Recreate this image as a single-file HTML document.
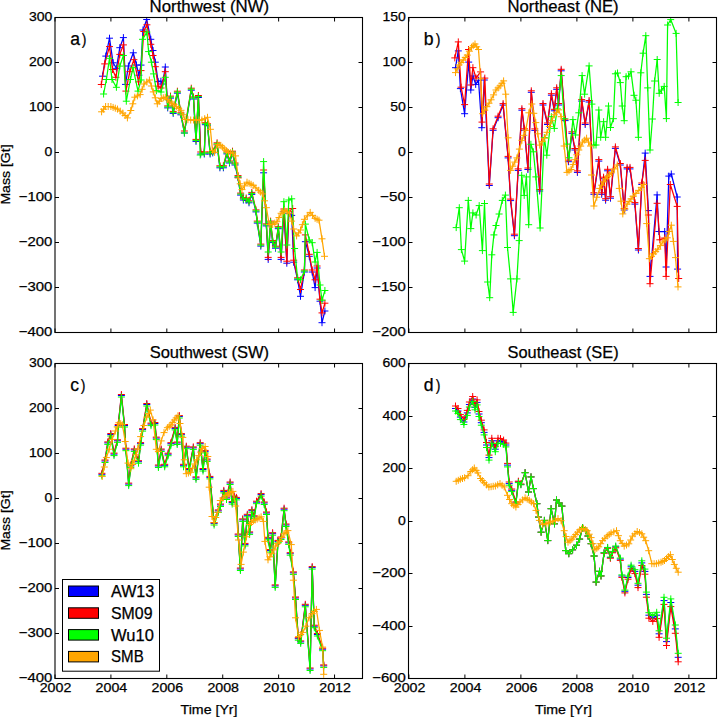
<!DOCTYPE html>
<html><head><meta charset="utf-8"><style>
html,body{margin:0;padding:0;background:#fff;}
svg{display:block;}
text{font-family:"Liberation Sans",sans-serif;fill:#000;stroke:#000;stroke-width:0.25px;}
</style></head><body>
<svg width="718" height="717" viewBox="0 0 718 717">
<rect width="718" height="717" fill="#fff"/>
<svg x="55.0" y="17.5" width="307.5" height="315.0" viewBox="55.0 17.5 307.5 315.0" overflow="hidden">
<path d="M102.5,76.2 L105.8,56.1 L109.5,38.2 L113.1,62.8 L116.4,68.3 L119.8,47.7 L123.4,37.6 L125.5,84.4 L128.4,66.0 L133.3,52.8 L136.5,65.0 L138.9,75.2 L141.0,65.1 L143.0,30.0 L146.7,19.5 L150.8,39.3 L153.0,50.5 L155.3,62.2 L158.1,81.7 L160.9,81.2 L162.5,84.0 L165.3,67.0 L167.7,107.9 L170.5,98.1 L173.2,113.4 L177.4,93.2 L180.9,114.8 L184.4,133.0 L191.3,90.2 L193.5,99.0 L196.0,141.4 L198.4,97.5 L200.7,154.0 L204.3,154.0 L205.4,124.7 L207.5,125.8 L210.1,154.0 L212.7,152.9 L217.1,144.8 L219.9,167.8 L223.4,167.8 L226.9,153.9 L229.5,163.0 L232.5,153.2 L235.0,165.0 L238.0,177.6 L240.6,195.1 L243.4,200.0 L246.2,200.0 L249.0,202.8 L251.8,194.4 L256.0,211.9 L257.3,223.1 L260.8,246.1 L263.6,172.8 L266.4,225.9 L268.2,259.4 L270.6,223.1 L272.7,242.6 L275.5,248.2 L278.3,228.7 L281.1,259.4 L283.9,211.5 L286.8,263.2 L288.8,213.4 L291.7,215.4 L293.7,262.2 L297.6,279.8 L300.5,296.3 L304.4,272.0 L305.4,241.7 L309.3,256.3 L312.2,272.0 L315.1,287.6 L317.1,268.0 L320.0,301.2 L322.0,322.7 L324.9,311.0" fill="none" stroke="#0000ff" stroke-width="1.25" stroke-linejoin="round"/>
<path d="M99.0,76.2h7.0M102.5,72.7v7.0 M102.3,56.1h7.0M105.8,52.6v7.0 M106.0,38.2h7.0M109.5,34.7v7.0 M109.6,62.8h7.0M113.1,59.3v7.0 M112.9,68.3h7.0M116.4,64.8v7.0 M116.3,47.7h7.0M119.8,44.2v7.0 M119.9,37.6h7.0M123.4,34.1v7.0 M122.0,84.4h7.0M125.5,80.9v7.0 M124.9,66.0h7.0M128.4,62.5v7.0 M129.8,52.8h7.0M133.3,49.3v7.0 M133.0,65.0h7.0M136.5,61.5v7.0 M135.4,75.2h7.0M138.9,71.7v7.0 M137.5,65.1h7.0M141.0,61.6v7.0 M139.5,30.0h7.0M143.0,26.5v7.0 M143.2,19.5h7.0M146.7,16.0v7.0 M147.3,39.3h7.0M150.8,35.8v7.0 M149.5,50.5h7.0M153.0,47.0v7.0 M151.8,62.2h7.0M155.3,58.7v7.0 M154.6,81.7h7.0M158.1,78.2v7.0 M157.4,81.2h7.0M160.9,77.7v7.0 M159.0,84.0h7.0M162.5,80.5v7.0 M161.8,67.0h7.0M165.3,63.5v7.0 M164.2,107.9h7.0M167.7,104.4v7.0 M167.0,98.1h7.0M170.5,94.6v7.0 M169.7,113.4h7.0M173.2,109.9v7.0 M173.9,93.2h7.0M177.4,89.7v7.0 M177.4,114.8h7.0M180.9,111.3v7.0 M180.9,133.0h7.0M184.4,129.5v7.0 M187.8,90.2h7.0M191.3,86.7v7.0 M190.0,99.0h7.0M193.5,95.5v7.0 M192.5,141.4h7.0M196.0,137.9v7.0 M194.9,97.5h7.0M198.4,94.0v7.0 M197.2,154.0h7.0M200.7,150.5v7.0 M200.8,154.0h7.0M204.3,150.5v7.0 M201.9,124.7h7.0M205.4,121.2v7.0 M204.0,125.8h7.0M207.5,122.3v7.0 M206.6,154.0h7.0M210.1,150.5v7.0 M209.2,152.9h7.0M212.7,149.4v7.0 M213.6,144.8h7.0M217.1,141.3v7.0 M216.4,167.8h7.0M219.9,164.3v7.0 M219.9,167.8h7.0M223.4,164.3v7.0 M223.4,153.9h7.0M226.9,150.4v7.0 M226.0,163.0h7.0M229.5,159.5v7.0 M229.0,153.2h7.0M232.5,149.7v7.0 M231.5,165.0h7.0M235.0,161.5v7.0 M234.5,177.6h7.0M238.0,174.1v7.0 M237.1,195.1h7.0M240.6,191.6v7.0 M239.9,200.0h7.0M243.4,196.5v7.0 M242.7,200.0h7.0M246.2,196.5v7.0 M245.5,202.8h7.0M249.0,199.3v7.0 M248.3,194.4h7.0M251.8,190.9v7.0 M252.5,211.9h7.0M256.0,208.4v7.0 M253.8,223.1h7.0M257.3,219.6v7.0 M257.3,246.1h7.0M260.8,242.6v7.0 M260.1,172.8h7.0M263.6,169.3v7.0 M262.9,225.9h7.0M266.4,222.4v7.0 M264.7,259.4h7.0M268.2,255.9v7.0 M267.1,223.1h7.0M270.6,219.6v7.0 M269.2,242.6h7.0M272.7,239.1v7.0 M272.0,248.2h7.0M275.5,244.7v7.0 M274.8,228.7h7.0M278.3,225.2v7.0 M277.6,259.4h7.0M281.1,255.9v7.0 M280.4,211.5h7.0M283.9,208.0v7.0 M283.3,263.2h7.0M286.8,259.7v7.0 M285.3,213.4h7.0M288.8,209.9v7.0 M288.2,215.4h7.0M291.7,211.9v7.0 M290.2,262.2h7.0M293.7,258.7v7.0 M294.1,279.8h7.0M297.6,276.3v7.0 M297.0,296.3h7.0M300.5,292.8v7.0 M300.9,272.0h7.0M304.4,268.5v7.0 M301.9,241.7h7.0M305.4,238.2v7.0 M305.8,256.3h7.0M309.3,252.8v7.0 M308.7,272.0h7.0M312.2,268.5v7.0 M311.6,287.6h7.0M315.1,284.1v7.0 M313.6,268.0h7.0M317.1,264.5v7.0 M316.5,301.2h7.0M320.0,297.7v7.0 M318.5,322.7h7.0M322.0,319.2v7.0 M321.4,311.0h7.0M324.9,307.5v7.0" fill="none" stroke="#0000ff" stroke-width="1.0"/>
<path d="M101.3,84.5 L104.7,63.9 L109.5,46.6 L112.5,69.5 L115.9,77.3 L119.8,54.4 L123.4,44.9 L125.9,91.1 L129.8,71.7 L133.9,59.7 L138.5,81.9 L141.0,70.6 L143.8,31.5 L146.9,24.8 L150.8,44.3 L153.0,55.5 L155.3,66.7 L158.1,86.2 L161.0,88.0 L165.3,71.7 L167.7,105.9 L170.5,96.1 L173.2,111.4 L177.4,91.2 L180.9,112.8 L184.4,131.0 L191.3,88.2 L193.5,97.0 L196.0,139.4 L198.4,95.5 L200.7,152.0 L204.3,152.0 L205.4,122.7 L207.5,123.8 L210.1,152.0 L212.7,150.9 L217.1,142.8 L219.9,165.8 L223.4,165.8 L226.9,151.9 L229.5,161.0 L232.5,151.2 L235.0,163.0 L238.0,175.6 L240.6,193.1 L243.4,198.0 L246.2,198.0 L249.0,200.8 L251.8,192.4 L256.0,209.9 L257.3,221.1 L260.8,244.1 L263.6,170.0 L266.4,223.9 L268.2,257.4 L270.6,221.1 L272.7,240.6 L275.5,246.2 L278.3,226.7 L281.1,257.4 L283.9,209.0 L286.8,261.2 L288.8,211.4 L292.7,208.5 L293.7,260.2 L297.6,277.8 L300.5,289.5 L304.4,270.0 L305.4,234.9 L309.3,254.3 L312.2,270.0 L315.1,279.8 L317.1,266.0 L320.0,299.2 L322.0,312.9 L324.9,303.2" fill="none" stroke="#ff0000" stroke-width="1.25" stroke-linejoin="round"/>
<path d="M97.8,84.5h7.0M101.3,81.0v7.0 M101.2,63.9h7.0M104.7,60.4v7.0 M106.0,46.6h7.0M109.5,43.1v7.0 M109.0,69.5h7.0M112.5,66.0v7.0 M112.4,77.3h7.0M115.9,73.8v7.0 M116.3,54.4h7.0M119.8,50.9v7.0 M119.9,44.9h7.0M123.4,41.4v7.0 M122.4,91.1h7.0M125.9,87.6v7.0 M126.3,71.7h7.0M129.8,68.2v7.0 M130.4,59.7h7.0M133.9,56.2v7.0 M135.0,81.9h7.0M138.5,78.4v7.0 M137.5,70.6h7.0M141.0,67.1v7.0 M140.3,31.5h7.0M143.8,28.0v7.0 M143.4,24.8h7.0M146.9,21.3v7.0 M147.3,44.3h7.0M150.8,40.8v7.0 M149.5,55.5h7.0M153.0,52.0v7.0 M151.8,66.7h7.0M155.3,63.2v7.0 M154.6,86.2h7.0M158.1,82.7v7.0 M157.5,88.0h7.0M161.0,84.5v7.0 M161.8,71.7h7.0M165.3,68.2v7.0 M164.2,105.9h7.0M167.7,102.4v7.0 M167.0,96.1h7.0M170.5,92.6v7.0 M169.7,111.4h7.0M173.2,107.9v7.0 M173.9,91.2h7.0M177.4,87.7v7.0 M177.4,112.8h7.0M180.9,109.3v7.0 M180.9,131.0h7.0M184.4,127.5v7.0 M187.8,88.2h7.0M191.3,84.7v7.0 M190.0,97.0h7.0M193.5,93.5v7.0 M192.5,139.4h7.0M196.0,135.9v7.0 M194.9,95.5h7.0M198.4,92.0v7.0 M197.2,152.0h7.0M200.7,148.5v7.0 M200.8,152.0h7.0M204.3,148.5v7.0 M201.9,122.7h7.0M205.4,119.2v7.0 M204.0,123.8h7.0M207.5,120.3v7.0 M206.6,152.0h7.0M210.1,148.5v7.0 M209.2,150.9h7.0M212.7,147.4v7.0 M213.6,142.8h7.0M217.1,139.3v7.0 M216.4,165.8h7.0M219.9,162.3v7.0 M219.9,165.8h7.0M223.4,162.3v7.0 M223.4,151.9h7.0M226.9,148.4v7.0 M226.0,161.0h7.0M229.5,157.5v7.0 M229.0,151.2h7.0M232.5,147.7v7.0 M231.5,163.0h7.0M235.0,159.5v7.0 M234.5,175.6h7.0M238.0,172.1v7.0 M237.1,193.1h7.0M240.6,189.6v7.0 M239.9,198.0h7.0M243.4,194.5v7.0 M242.7,198.0h7.0M246.2,194.5v7.0 M245.5,200.8h7.0M249.0,197.3v7.0 M248.3,192.4h7.0M251.8,188.9v7.0 M252.5,209.9h7.0M256.0,206.4v7.0 M253.8,221.1h7.0M257.3,217.6v7.0 M257.3,244.1h7.0M260.8,240.6v7.0 M260.1,170.0h7.0M263.6,166.5v7.0 M262.9,223.9h7.0M266.4,220.4v7.0 M264.7,257.4h7.0M268.2,253.9v7.0 M267.1,221.1h7.0M270.6,217.6v7.0 M269.2,240.6h7.0M272.7,237.1v7.0 M272.0,246.2h7.0M275.5,242.7v7.0 M274.8,226.7h7.0M278.3,223.2v7.0 M277.6,257.4h7.0M281.1,253.9v7.0 M280.4,209.0h7.0M283.9,205.5v7.0 M283.3,261.2h7.0M286.8,257.7v7.0 M285.3,211.4h7.0M288.8,207.9v7.0 M289.2,208.5h7.0M292.7,205.0v7.0 M290.2,260.2h7.0M293.7,256.7v7.0 M294.1,277.8h7.0M297.6,274.3v7.0 M297.0,289.5h7.0M300.5,286.0v7.0 M300.9,270.0h7.0M304.4,266.5v7.0 M301.9,234.9h7.0M305.4,231.4v7.0 M305.8,254.3h7.0M309.3,250.8v7.0 M308.7,270.0h7.0M312.2,266.5v7.0 M311.6,279.8h7.0M315.1,276.3v7.0 M313.6,266.0h7.0M317.1,262.5v7.0 M316.5,299.2h7.0M320.0,295.7v7.0 M318.5,312.9h7.0M322.0,309.4v7.0 M321.4,303.2h7.0M324.9,299.7v7.0" fill="none" stroke="#ff0000" stroke-width="1.0"/>
<path d="M103.6,94.0 L106.4,79.5 L109.5,58.3 L112.0,79.5 L116.4,87.3 L119.8,66.1 L123.4,55.5 L126.3,101.2 L130.4,79.5 L133.0,67.7 L138.0,91.1 L141.0,80.0 L142.5,39.3 L146.9,32.1 L148.6,51.6 L151.4,62.2 L153.6,73.9 L156.4,90.7 L161.0,92.0 L165.3,77.3 L167.7,106.9 L170.5,97.1 L173.2,112.4 L177.4,92.2 L180.9,113.8 L184.4,133.0 L191.3,89.2 L193.5,98.0 L196.0,140.4 L198.4,96.5 L200.2,155.0 L204.3,153.0 L205.4,123.7 L207.5,124.8 L210.1,153.0 L212.7,151.9 L217.1,143.8 L219.9,166.8 L223.4,166.8 L226.9,152.9 L229.5,162.0 L232.5,152.2 L235.0,164.0 L238.0,176.6 L240.6,194.1 L243.4,199.0 L246.2,199.0 L249.0,201.8 L251.8,193.4 L256.0,210.9 L257.3,222.1 L260.8,245.1 L263.6,161.6 L266.4,224.9 L268.2,252.0 L270.6,222.1 L272.7,241.6 L275.5,247.2 L278.3,227.7 L281.1,252.0 L283.9,201.7 L286.8,245.0 L288.8,200.0 L291.7,198.8 L294.6,248.5 L297.6,278.8 L300.5,279.8 L304.4,271.0 L305.4,224.1 L309.3,240.0 L312.2,242.7 L315.1,262.0 L317.1,252.4 L320.0,285.0 L322.0,300.2 L324.9,290.5" fill="none" stroke="#00ff00" stroke-width="1.25" stroke-linejoin="round"/>
<path d="M100.1,94.0h7.0M103.6,90.5v7.0 M102.9,79.5h7.0M106.4,76.0v7.0 M106.0,58.3h7.0M109.5,54.8v7.0 M108.5,79.5h7.0M112.0,76.0v7.0 M112.9,87.3h7.0M116.4,83.8v7.0 M116.3,66.1h7.0M119.8,62.6v7.0 M119.9,55.5h7.0M123.4,52.0v7.0 M122.8,101.2h7.0M126.3,97.7v7.0 M126.9,79.5h7.0M130.4,76.0v7.0 M129.5,67.7h7.0M133.0,64.2v7.0 M134.5,91.1h7.0M138.0,87.6v7.0 M137.5,80.0h7.0M141.0,76.5v7.0 M139.0,39.3h7.0M142.5,35.8v7.0 M143.4,32.1h7.0M146.9,28.6v7.0 M145.1,51.6h7.0M148.6,48.1v7.0 M147.9,62.2h7.0M151.4,58.7v7.0 M150.1,73.9h7.0M153.6,70.4v7.0 M152.9,90.7h7.0M156.4,87.2v7.0 M157.5,92.0h7.0M161.0,88.5v7.0 M161.8,77.3h7.0M165.3,73.8v7.0 M164.2,106.9h7.0M167.7,103.4v7.0 M167.0,97.1h7.0M170.5,93.6v7.0 M169.7,112.4h7.0M173.2,108.9v7.0 M173.9,92.2h7.0M177.4,88.7v7.0 M177.4,113.8h7.0M180.9,110.3v7.0 M180.9,133.0h7.0M184.4,129.5v7.0 M187.8,89.2h7.0M191.3,85.7v7.0 M190.0,98.0h7.0M193.5,94.5v7.0 M192.5,140.4h7.0M196.0,136.9v7.0 M194.9,96.5h7.0M198.4,93.0v7.0 M196.7,155.0h7.0M200.2,151.5v7.0 M200.8,153.0h7.0M204.3,149.5v7.0 M201.9,123.7h7.0M205.4,120.2v7.0 M204.0,124.8h7.0M207.5,121.3v7.0 M206.6,153.0h7.0M210.1,149.5v7.0 M209.2,151.9h7.0M212.7,148.4v7.0 M213.6,143.8h7.0M217.1,140.3v7.0 M216.4,166.8h7.0M219.9,163.3v7.0 M219.9,166.8h7.0M223.4,163.3v7.0 M223.4,152.9h7.0M226.9,149.4v7.0 M226.0,162.0h7.0M229.5,158.5v7.0 M229.0,152.2h7.0M232.5,148.7v7.0 M231.5,164.0h7.0M235.0,160.5v7.0 M234.5,176.6h7.0M238.0,173.1v7.0 M237.1,194.1h7.0M240.6,190.6v7.0 M239.9,199.0h7.0M243.4,195.5v7.0 M242.7,199.0h7.0M246.2,195.5v7.0 M245.5,201.8h7.0M249.0,198.3v7.0 M248.3,193.4h7.0M251.8,189.9v7.0 M252.5,210.9h7.0M256.0,207.4v7.0 M253.8,222.1h7.0M257.3,218.6v7.0 M257.3,245.1h7.0M260.8,241.6v7.0 M260.1,161.6h7.0M263.6,158.1v7.0 M262.9,224.9h7.0M266.4,221.4v7.0 M264.7,252.0h7.0M268.2,248.5v7.0 M267.1,222.1h7.0M270.6,218.6v7.0 M269.2,241.6h7.0M272.7,238.1v7.0 M272.0,247.2h7.0M275.5,243.7v7.0 M274.8,227.7h7.0M278.3,224.2v7.0 M277.6,252.0h7.0M281.1,248.5v7.0 M280.4,201.7h7.0M283.9,198.2v7.0 M283.3,245.0h7.0M286.8,241.5v7.0 M285.3,200.0h7.0M288.8,196.5v7.0 M288.2,198.8h7.0M291.7,195.3v7.0 M291.1,248.5h7.0M294.6,245.0v7.0 M294.1,278.8h7.0M297.6,275.3v7.0 M297.0,279.8h7.0M300.5,276.3v7.0 M300.9,271.0h7.0M304.4,267.5v7.0 M301.9,224.1h7.0M305.4,220.6v7.0 M305.8,240.0h7.0M309.3,236.5v7.0 M308.7,242.7h7.0M312.2,239.2v7.0 M311.6,262.0h7.0M315.1,258.5v7.0 M313.6,252.4h7.0M317.1,248.9v7.0 M316.5,285.0h7.0M320.0,281.5v7.0 M318.5,300.2h7.0M322.0,296.7v7.0 M321.4,290.5h7.0M324.9,287.0v7.0" fill="none" stroke="#00ff00" stroke-width="1.0"/>
<path d="M101.6,111.8 L105.6,106.5 L110.9,106.5 L117.5,109.1 L122.8,113.1 L127.4,117.9 L130.8,110.5 L134.8,97.2 L140.1,94.6 L144.1,84.0 L149.4,80.0 L153.3,91.9 L157.3,103.8 L161.3,98.5 L165.3,97.2 L169.8,101.9 L174.0,104.7 L181.0,110.3 L185.1,119.4 L190.7,120.0 L196.3,120.0 L201.9,120.0 L207.5,117.3 L210.4,129.3 L212.5,150.3 L214.6,152.4 L217.3,144.7 L220.8,145.4 L224.3,148.9 L228.5,152.4 L232.7,153.1 L235.5,155.9 L238.3,178.0 L242.0,189.6 L247.0,182.2 L253.2,185.4 L258.7,190.3 L262.6,193.9 L266.4,207.7 L269.2,224.5 L272.7,224.5 L276.9,221.7 L281.1,213.3 L284.6,210.5 L289.6,213.2 L293.7,229.0 L296.6,235.9 L300.5,230.0 L304.4,219.3 L310.2,212.4 L315.1,218.3 L319.0,220.2 L322.0,238.8 L324.5,256.3" fill="none" stroke="#ffa500" stroke-width="1.25" stroke-linejoin="round"/>
<path d="M98.1,111.8h7.0M101.6,108.3v7.0 M100.1,109.2h7.0M103.6,105.7v7.0 M102.1,106.5h7.0M105.6,103.0v7.0 M104.8,106.5h7.0M108.2,103.0v7.0 M107.4,106.5h7.0M110.9,103.0v7.0 M109.6,107.4h7.0M113.1,103.9v7.0 M111.8,108.2h7.0M115.3,104.7v7.0 M114.0,109.1h7.0M117.5,105.6v7.0 M116.7,111.1h7.0M120.2,107.6v7.0 M119.3,113.1h7.0M122.8,109.6v7.0 M121.6,115.5h7.0M125.1,112.0v7.0 M123.9,117.9h7.0M127.4,114.4v7.0 M127.3,110.5h7.0M130.8,107.0v7.0 M129.3,103.8h7.0M132.8,100.3v7.0 M131.3,97.2h7.0M134.8,93.7v7.0 M133.9,95.9h7.0M137.4,92.4v7.0 M136.6,94.6h7.0M140.1,91.1v7.0 M138.6,89.3h7.0M142.1,85.8v7.0 M140.6,84.0h7.0M144.1,80.5v7.0 M143.2,82.0h7.0M146.8,78.5v7.0 M145.9,80.0h7.0M149.4,76.5v7.0 M147.9,86.0h7.0M151.4,82.5v7.0 M149.8,91.9h7.0M153.3,88.4v7.0 M151.8,97.8h7.0M155.3,94.3v7.0 M153.8,103.8h7.0M157.3,100.3v7.0 M155.8,101.2h7.0M159.3,97.7v7.0 M157.8,98.5h7.0M161.3,95.0v7.0 M159.8,97.8h7.0M163.3,94.3v7.0 M161.8,97.2h7.0M165.3,93.7v7.0 M164.1,99.6h7.0M167.6,96.1v7.0 M166.3,101.9h7.0M169.8,98.4v7.0 M168.4,103.3h7.0M171.9,99.8v7.0 M170.5,104.7h7.0M174.0,101.2v7.0 M172.8,106.6h7.0M176.3,103.1v7.0 M175.2,108.4h7.0M178.7,104.9v7.0 M177.5,110.3h7.0M181.0,106.8v7.0 M179.6,114.8h7.0M183.1,111.3v7.0 M181.6,119.4h7.0M185.1,115.9v7.0 M184.4,119.7h7.0M187.9,116.2v7.0 M187.2,120.0h7.0M190.7,116.5v7.0 M190.0,120.0h7.0M193.5,116.5v7.0 M192.8,120.0h7.0M196.3,116.5v7.0 M195.6,120.0h7.0M199.1,116.5v7.0 M198.4,120.0h7.0M201.9,116.5v7.0 M201.2,118.7h7.0M204.7,115.2v7.0 M204.0,117.3h7.0M207.5,113.8v7.0 M206.9,129.3h7.0M210.4,125.8v7.0 M209.0,150.3h7.0M212.5,146.8v7.0 M211.1,152.4h7.0M214.6,148.9v7.0 M213.8,144.7h7.0M217.3,141.2v7.0 M215.6,145.1h7.0M219.1,141.6v7.0 M217.3,145.4h7.0M220.8,141.9v7.0 M219.1,147.2h7.0M222.6,143.7v7.0 M220.8,148.9h7.0M224.3,145.4v7.0 M222.9,150.7h7.0M226.4,147.2v7.0 M225.0,152.4h7.0M228.5,148.9v7.0 M227.1,152.8h7.0M230.6,149.2v7.0 M229.2,153.1h7.0M232.7,149.6v7.0 M232.0,155.9h7.0M235.5,152.4v7.0 M234.8,178.0h7.0M238.3,174.5v7.0 M236.7,183.8h7.0M240.2,180.3v7.0 M238.5,189.6h7.0M242.0,186.1v7.0 M241.0,185.9h7.0M244.5,182.4v7.0 M243.5,182.2h7.0M247.0,178.7v7.0 M245.6,183.3h7.0M249.1,179.8v7.0 M247.6,184.3h7.0M251.1,180.8v7.0 M249.7,185.4h7.0M253.2,181.9v7.0 M252.4,187.9h7.0M255.9,184.4v7.0 M255.2,190.3h7.0M258.7,186.8v7.0 M257.1,192.1h7.0M260.6,188.6v7.0 M259.1,193.9h7.0M262.6,190.4v7.0 M261.0,200.8h7.0M264.5,197.3v7.0 M262.9,207.7h7.0M266.4,204.2v7.0 M265.7,224.5h7.0M269.2,221.0v7.0 M267.4,224.5h7.0M270.9,221.0v7.0 M269.2,224.5h7.0M272.7,221.0v7.0 M271.3,223.1h7.0M274.8,219.6v7.0 M273.4,221.7h7.0M276.9,218.2v7.0 M275.5,217.5h7.0M279.0,214.0v7.0 M277.6,213.3h7.0M281.1,209.8v7.0 M279.4,211.9h7.0M282.9,208.4v7.0 M281.1,210.5h7.0M284.6,207.0v7.0 M283.6,211.8h7.0M287.1,208.3v7.0 M286.1,213.2h7.0M289.6,209.7v7.0 M288.1,221.1h7.0M291.6,217.6v7.0 M290.2,229.0h7.0M293.7,225.5v7.0 M293.1,235.9h7.0M296.6,232.4v7.0 M295.1,232.9h7.0M298.6,229.4v7.0 M297.0,230.0h7.0M300.5,226.5v7.0 M298.9,224.7h7.0M302.4,221.2v7.0 M300.9,219.3h7.0M304.4,215.8v7.0 M303.8,215.9h7.0M307.3,212.4v7.0 M306.7,212.4h7.0M310.2,208.9v7.0 M309.1,215.4h7.0M312.6,211.9v7.0 M311.6,218.3h7.0M315.1,214.8v7.0 M313.6,219.2h7.0M317.1,215.8v7.0 M315.5,220.2h7.0M319.0,216.7v7.0 M318.5,238.8h7.0M322.0,235.3v7.0 M321.0,256.3h7.0M324.5,252.8v7.0" fill="none" stroke="#ffa500" stroke-width="1.0"/>
</svg>
<rect x="55.0" y="17.5" width="307.5" height="315.0" fill="none" stroke="#000" stroke-width="1.1"/>
<text x="52.40" y="336.00" font-size="12.84" text-anchor="end" textLength="33.62" lengthAdjust="spacingAndGlyphs">−400</text>
<text x="52.40" y="291.00" font-size="12.84" text-anchor="end" textLength="33.62" lengthAdjust="spacingAndGlyphs">−300</text>
<text x="52.40" y="246.00" font-size="12.84" text-anchor="end" textLength="33.62" lengthAdjust="spacingAndGlyphs">−200</text>
<text x="52.40" y="201.00" font-size="12.84" text-anchor="end" textLength="33.62" lengthAdjust="spacingAndGlyphs">−100</text>
<text x="52.40" y="156.00" font-size="12.84" text-anchor="end" textLength="7.79" lengthAdjust="spacingAndGlyphs">0</text>
<text x="52.40" y="111.00" font-size="12.84" text-anchor="end" textLength="23.36" lengthAdjust="spacingAndGlyphs">100</text>
<text x="52.40" y="66.00" font-size="12.84" text-anchor="end" textLength="23.36" lengthAdjust="spacingAndGlyphs">200</text>
<text x="52.40" y="21.00" font-size="12.84" text-anchor="end" textLength="23.36" lengthAdjust="spacingAndGlyphs">300</text>
<path d="M55.00,332.5v-4M55.00,17.5v4 M110.91,332.5v-4M110.91,17.5v4 M166.82,332.5v-4M166.82,17.5v4 M222.73,332.5v-4M222.73,17.5v4 M278.64,332.5v-4M278.64,17.5v4 M334.55,332.5v-4M334.55,17.5v4 M55.0,332.50h4M362.5,332.50h-4 M55.0,287.50h4M362.5,287.50h-4 M55.0,242.50h4M362.5,242.50h-4 M55.0,197.50h4M362.5,197.50h-4 M55.0,152.50h4M362.5,152.50h-4 M55.0,107.50h4M362.5,107.50h-4 M55.0,62.50h4M362.5,62.50h-4 M55.0,17.50h4M362.5,17.50h-4" stroke="#000" stroke-width="1.0" fill="none"/>
<g transform="translate(209.35,12.20) scale(1,1.0)">
<text x="0.00" y="0.00" font-size="15.84" text-anchor="middle" textLength="119.48" lengthAdjust="spacingAndGlyphs">Northwest (NW)</text>
</g>
<text x="70.20" y="44.90" font-size="17.6">a</text>
<g transform="translate(81.79,44.90) scale(0.8,0.9)"><text x="0" y="0" font-size="17.6">)</text></g>
<g transform="translate(9.9,174.50) rotate(-90)">
<text x="0.00" y="0.00" font-size="12.84" text-anchor="middle" textLength="60.26" lengthAdjust="spacingAndGlyphs">Mass [Gt]</text>
</g>
<svg x="408.5" y="17.5" width="308.0" height="315.0" viewBox="408.5 17.5 308.0 315.0" overflow="hidden">
<path d="M455.5,67.7 L458.3,50.9 L460.4,88.6 L464.6,113.7 L468.7,62.1 L470.8,90.0 L472.9,76.0 L475.7,84.4 L478.5,80.2 L481.8,127.7 L484.3,80.0 L489.3,185.5 L493.1,130.3 L498.1,117.7 L503.1,105.1 L508.1,157.9 L510.6,200.6 L514.4,235.7 L518.2,170.4 L521.9,110.2 L524.4,130.3 L527.9,169.5 L531.3,92.3 L534.8,130.4 L539.7,191.0 L543.0,105.0 L547.5,124.5 L551.4,95.2 L554.3,110.8 L556.7,89.3 L558.6,105.0 L561.2,70.8 L565.1,120.6 L568.4,161.7 L571.9,133.3 L574.9,150.0 L577.4,172.4 L581.7,101.1 L585.2,124.5 L589.1,102.0 L593.9,194.3 L598.8,161.1 L601.7,194.3 L603.6,178.7 L605.6,200.2 L607.6,170.8 L610.5,198.2 L615.4,148.4 L620.3,165.0 L624.2,210.0 L627.1,168.9 L630.0,168.9 L634.9,204.1 L638.4,250.0 L641.8,184.5 L645.2,153.1 L648.4,210.6 L650.0,276.4 L657.1,194.9 L658.8,231.5 L664.7,231.5 L666.1,267.0 L668.8,176.1 L671.3,174.0 L677.2,197.0 L677.6,269.1" fill="none" stroke="#0000ff" stroke-width="1.25" stroke-linejoin="round"/>
<path d="M452.0,67.7h7.0M455.5,64.2v7.0 M454.8,50.9h7.0M458.3,47.4v7.0 M456.9,88.6h7.0M460.4,85.1v7.0 M461.1,113.7h7.0M464.6,110.2v7.0 M465.2,62.1h7.0M468.7,58.6v7.0 M467.3,90.0h7.0M470.8,86.5v7.0 M469.4,76.0h7.0M472.9,72.5v7.0 M472.2,84.4h7.0M475.7,80.9v7.0 M475.0,80.2h7.0M478.5,76.7v7.0 M478.3,127.7h7.0M481.8,124.2v7.0 M480.8,80.0h7.0M484.3,76.5v7.0 M485.8,185.5h7.0M489.3,182.0v7.0 M489.6,130.3h7.0M493.1,126.8v7.0 M494.6,117.7h7.0M498.1,114.2v7.0 M499.6,105.1h7.0M503.1,101.6v7.0 M504.6,157.9h7.0M508.1,154.4v7.0 M507.1,200.6h7.0M510.6,197.1v7.0 M510.9,235.7h7.0M514.4,232.2v7.0 M514.7,170.4h7.0M518.2,166.9v7.0 M518.4,110.2h7.0M521.9,106.7v7.0 M520.9,130.3h7.0M524.4,126.8v7.0 M524.4,169.5h7.0M527.9,166.0v7.0 M527.8,92.3h7.0M531.3,88.8v7.0 M531.3,130.4h7.0M534.8,126.9v7.0 M536.2,191.0h7.0M539.7,187.5v7.0 M539.5,105.0h7.0M543.0,101.5v7.0 M544.0,124.5h7.0M547.5,121.0v7.0 M547.9,95.2h7.0M551.4,91.7v7.0 M550.8,110.8h7.0M554.3,107.3v7.0 M553.2,89.3h7.0M556.7,85.8v7.0 M555.1,105.0h7.0M558.6,101.5v7.0 M557.7,70.8h7.0M561.2,67.3v7.0 M561.6,120.6h7.0M565.1,117.1v7.0 M564.9,161.7h7.0M568.4,158.2v7.0 M568.4,133.3h7.0M571.9,129.8v7.0 M571.4,150.0h7.0M574.9,146.5v7.0 M573.9,172.4h7.0M577.4,168.9v7.0 M578.2,101.1h7.0M581.7,97.6v7.0 M581.7,124.5h7.0M585.2,121.0v7.0 M585.6,102.0h7.0M589.1,98.5v7.0 M590.4,194.3h7.0M593.9,190.8v7.0 M595.3,161.1h7.0M598.8,157.6v7.0 M598.2,194.3h7.0M601.7,190.8v7.0 M600.1,178.7h7.0M603.6,175.2v7.0 M602.1,200.2h7.0M605.6,196.7v7.0 M604.1,170.8h7.0M607.6,167.3v7.0 M607.0,198.2h7.0M610.5,194.7v7.0 M611.9,148.4h7.0M615.4,144.9v7.0 M616.8,165.0h7.0M620.3,161.5v7.0 M620.7,210.0h7.0M624.2,206.5v7.0 M623.6,168.9h7.0M627.1,165.4v7.0 M626.5,168.9h7.0M630.0,165.4v7.0 M631.4,204.1h7.0M634.9,200.6v7.0 M634.9,250.0h7.0M638.4,246.5v7.0 M638.3,184.5h7.0M641.8,181.0v7.0 M641.7,153.1h7.0M645.2,149.6v7.0 M644.9,210.6h7.0M648.4,207.1v7.0 M646.5,276.4h7.0M650.0,272.9v7.0 M653.6,194.9h7.0M657.1,191.4v7.0 M655.3,231.5h7.0M658.8,228.0v7.0 M661.2,231.5h7.0M664.7,228.0v7.0 M662.6,267.0h7.0M666.1,263.5v7.0 M665.3,176.1h7.0M668.8,172.6v7.0 M667.8,174.0h7.0M671.3,170.5v7.0 M673.7,197.0h7.0M677.2,193.5v7.0 M674.1,269.1h7.0M677.6,265.6v7.0" fill="none" stroke="#0000ff" stroke-width="1.0"/>
<path d="M454.8,57.9 L458.3,41.9 L461.1,87.2 L464.6,104.6 L468.5,49.5 L470.8,85.0 L472.9,67.7 L476.0,78.0 L480.6,71.9 L482.0,122.1 L484.8,78.1 L489.3,184.0 L493.1,128.8 L498.1,116.2 L503.1,103.6 L508.1,156.4 L510.6,199.1 L514.4,234.2 L518.2,168.9 L521.9,108.7 L524.4,128.8 L527.9,168.0 L531.3,90.8 L534.8,128.9 L539.7,189.5 L543.0,103.5 L547.5,123.0 L551.4,93.7 L554.3,109.3 L556.7,87.8 L558.6,103.5 L561.2,69.3 L565.1,119.1 L568.4,160.2 L571.9,131.8 L574.9,148.5 L577.4,170.9 L581.7,99.6 L585.2,123.0 L589.1,100.5 L593.9,192.8 L598.8,159.6 L601.7,192.8 L603.6,177.2 L605.6,198.7 L607.6,169.3 L610.5,196.7 L615.4,146.9 L620.3,163.5 L624.2,208.5 L627.1,167.4 L630.0,167.4 L634.9,202.6 L638.4,248.5 L641.8,183.0 L645.2,160.4 L648.4,215.0 L650.0,283.7 L657.1,203.3 L659.8,239.8 L664.7,238.0 L666.1,276.4 L670.3,184.5 L677.2,206.4 L678.7,278.5" fill="none" stroke="#ff0000" stroke-width="1.25" stroke-linejoin="round"/>
<path d="M451.3,57.9h7.0M454.8,54.4v7.0 M454.8,41.9h7.0M458.3,38.4v7.0 M457.6,87.2h7.0M461.1,83.7v7.0 M461.1,104.6h7.0M464.6,101.1v7.0 M465.0,49.5h7.0M468.5,46.0v7.0 M467.3,85.0h7.0M470.8,81.5v7.0 M469.4,67.7h7.0M472.9,64.2v7.0 M472.5,78.0h7.0M476.0,74.5v7.0 M477.1,71.9h7.0M480.6,68.4v7.0 M478.5,122.1h7.0M482.0,118.6v7.0 M481.3,78.1h7.0M484.8,74.6v7.0 M485.8,184.0h7.0M489.3,180.5v7.0 M489.6,128.8h7.0M493.1,125.3v7.0 M494.6,116.2h7.0M498.1,112.7v7.0 M499.6,103.6h7.0M503.1,100.1v7.0 M504.6,156.4h7.0M508.1,152.9v7.0 M507.1,199.1h7.0M510.6,195.6v7.0 M510.9,234.2h7.0M514.4,230.7v7.0 M514.7,168.9h7.0M518.2,165.4v7.0 M518.4,108.7h7.0M521.9,105.2v7.0 M520.9,128.8h7.0M524.4,125.3v7.0 M524.4,168.0h7.0M527.9,164.5v7.0 M527.8,90.8h7.0M531.3,87.3v7.0 M531.3,128.9h7.0M534.8,125.4v7.0 M536.2,189.5h7.0M539.7,186.0v7.0 M539.5,103.5h7.0M543.0,100.0v7.0 M544.0,123.0h7.0M547.5,119.5v7.0 M547.9,93.7h7.0M551.4,90.2v7.0 M550.8,109.3h7.0M554.3,105.8v7.0 M553.2,87.8h7.0M556.7,84.3v7.0 M555.1,103.5h7.0M558.6,100.0v7.0 M557.7,69.3h7.0M561.2,65.8v7.0 M561.6,119.1h7.0M565.1,115.6v7.0 M564.9,160.2h7.0M568.4,156.7v7.0 M568.4,131.8h7.0M571.9,128.3v7.0 M571.4,148.5h7.0M574.9,145.0v7.0 M573.9,170.9h7.0M577.4,167.4v7.0 M578.2,99.6h7.0M581.7,96.1v7.0 M581.7,123.0h7.0M585.2,119.5v7.0 M585.6,100.5h7.0M589.1,97.0v7.0 M590.4,192.8h7.0M593.9,189.3v7.0 M595.3,159.6h7.0M598.8,156.1v7.0 M598.2,192.8h7.0M601.7,189.3v7.0 M600.1,177.2h7.0M603.6,173.7v7.0 M602.1,198.7h7.0M605.6,195.2v7.0 M604.1,169.3h7.0M607.6,165.8v7.0 M607.0,196.7h7.0M610.5,193.2v7.0 M611.9,146.9h7.0M615.4,143.4v7.0 M616.8,163.5h7.0M620.3,160.0v7.0 M620.7,208.5h7.0M624.2,205.0v7.0 M623.6,167.4h7.0M627.1,163.9v7.0 M626.5,167.4h7.0M630.0,163.9v7.0 M631.4,202.6h7.0M634.9,199.1v7.0 M634.9,248.5h7.0M638.4,245.0v7.0 M638.3,183.0h7.0M641.8,179.5v7.0 M641.7,160.4h7.0M645.2,156.9v7.0 M644.9,215.0h7.0M648.4,211.5v7.0 M646.5,283.7h7.0M650.0,280.2v7.0 M653.6,203.3h7.0M657.1,199.8v7.0 M656.3,239.8h7.0M659.8,236.3v7.0 M661.2,238.0h7.0M664.7,234.5v7.0 M662.6,276.4h7.0M666.1,272.9v7.0 M666.8,184.5h7.0M670.3,181.0v7.0 M673.7,206.4h7.0M677.2,202.9v7.0 M675.2,278.5h7.0M678.7,275.0v7.0" fill="none" stroke="#ff0000" stroke-width="1.0"/>
<path d="M456.2,227.6 L459.3,207.7 L461.4,249.6 L464.6,261.1 L468.3,200.4 L470.8,228.6 L472.9,212.9 L476.1,215.0 L479.2,205.6 L482.4,250.6 L484.5,203.5 L487.6,282.0 L489.7,297.7 L491.8,254.8 L493.9,234.9 L496.0,225.5 L499.1,214.0 L502.3,200.4 L505.4,195.1 L507.5,247.5 L510.6,278.9 L513.2,312.4 L516.9,278.9 L519.2,240.6 L521.7,175.3 L524.2,195.4 L526.4,176.9 L528.7,224.7 L530.9,144.3 L533.4,151.8 L535.9,176.9 L540.1,228.0 L544.3,137.6 L546.8,155.2 L551.4,116.7 L554.3,128.4 L557.3,108.9 L561.2,75.6 L564.1,118.7 L566.5,144.1 L569.0,157.8 L572.9,119.6 L575.5,135.0 L578.8,112.8 L582.1,75.6 L584.6,94.2 L589.1,65.9 L591.9,104.1 L593.9,145.1 L596.0,145.0 L598.8,110.0 L600.7,137.3 L603.6,121.7 L605.6,137.3 L608.5,106.0 L610.5,127.5 L613.4,118.7 L615.4,73.8 L617.5,73.0 L620.3,82.6 L622.2,106.0 L624.2,120.7 L626.1,76.7 L628.5,76.0 L631.0,71.8 L634.0,95.3 L635.9,100.2 L638.4,137.3 L640.8,72.8 L643.1,53.2 L645.8,35.7 L647.7,87.9 L650.0,150.0 L652.4,119.0 L654.6,81.0 L657.2,59.5 L659.2,93.3 L661.5,90.0 L664.2,86.4 L666.4,118.6 L667.6,25.0 L670.7,19.6 L676.1,33.4 L678.1,102.5" fill="none" stroke="#00ff00" stroke-width="1.25" stroke-linejoin="round"/>
<path d="M452.7,227.6h7.0M456.2,224.1v7.0 M455.8,207.7h7.0M459.3,204.2v7.0 M457.9,249.6h7.0M461.4,246.1v7.0 M461.1,261.1h7.0M464.6,257.6v7.0 M464.8,200.4h7.0M468.3,196.9v7.0 M467.3,228.6h7.0M470.8,225.1v7.0 M469.4,212.9h7.0M472.9,209.4v7.0 M472.6,215.0h7.0M476.1,211.5v7.0 M475.7,205.6h7.0M479.2,202.1v7.0 M478.9,250.6h7.0M482.4,247.1v7.0 M481.0,203.5h7.0M484.5,200.0v7.0 M484.1,282.0h7.0M487.6,278.5v7.0 M486.2,297.7h7.0M489.7,294.2v7.0 M488.3,254.8h7.0M491.8,251.3v7.0 M490.4,234.9h7.0M493.9,231.4v7.0 M492.5,225.5h7.0M496.0,222.0v7.0 M495.6,214.0h7.0M499.1,210.5v7.0 M498.8,200.4h7.0M502.3,196.9v7.0 M501.9,195.1h7.0M505.4,191.6v7.0 M504.0,247.5h7.0M507.5,244.0v7.0 M507.1,278.9h7.0M510.6,275.4v7.0 M509.7,312.4h7.0M513.2,308.9v7.0 M513.4,278.9h7.0M516.9,275.4v7.0 M515.7,240.6h7.0M519.2,237.1v7.0 M518.2,175.3h7.0M521.7,171.8v7.0 M520.7,195.4h7.0M524.2,191.9v7.0 M522.9,176.9h7.0M526.4,173.4v7.0 M525.2,224.7h7.0M528.7,221.2v7.0 M527.4,144.3h7.0M530.9,140.8v7.0 M529.9,151.8h7.0M533.4,148.3v7.0 M532.4,176.9h7.0M535.9,173.4v7.0 M536.6,228.0h7.0M540.1,224.5v7.0 M540.8,137.6h7.0M544.3,134.1v7.0 M543.3,155.2h7.0M546.8,151.7v7.0 M547.9,116.7h7.0M551.4,113.2v7.0 M550.8,128.4h7.0M554.3,124.9v7.0 M553.8,108.9h7.0M557.3,105.4v7.0 M557.7,75.6h7.0M561.2,72.1v7.0 M560.6,118.7h7.0M564.1,115.2v7.0 M563.0,144.1h7.0M566.5,140.6v7.0 M565.5,157.8h7.0M569.0,154.3v7.0 M569.4,119.6h7.0M572.9,116.1v7.0 M572.0,135.0h7.0M575.5,131.5v7.0 M575.3,112.8h7.0M578.8,109.3v7.0 M578.6,75.6h7.0M582.1,72.1v7.0 M581.1,94.2h7.0M584.6,90.7v7.0 M585.6,65.9h7.0M589.1,62.4v7.0 M588.4,104.1h7.0M591.9,100.6v7.0 M590.4,145.1h7.0M593.9,141.6v7.0 M592.5,145.0h7.0M596.0,141.5v7.0 M595.3,110.0h7.0M598.8,106.5v7.0 M597.2,137.3h7.0M600.7,133.8v7.0 M600.1,121.7h7.0M603.6,118.2v7.0 M602.1,137.3h7.0M605.6,133.8v7.0 M605.0,106.0h7.0M608.5,102.5v7.0 M607.0,127.5h7.0M610.5,124.0v7.0 M609.9,118.7h7.0M613.4,115.2v7.0 M611.9,73.8h7.0M615.4,70.3v7.0 M614.0,73.0h7.0M617.5,69.5v7.0 M616.8,82.6h7.0M620.3,79.1v7.0 M618.7,106.0h7.0M622.2,102.5v7.0 M620.7,120.7h7.0M624.2,117.2v7.0 M622.6,76.7h7.0M626.1,73.2v7.0 M625.0,76.0h7.0M628.5,72.5v7.0 M627.5,71.8h7.0M631.0,68.3v7.0 M630.5,95.3h7.0M634.0,91.8v7.0 M632.4,100.2h7.0M635.9,96.7v7.0 M634.9,137.3h7.0M638.4,133.8v7.0 M637.3,72.8h7.0M640.8,69.3v7.0 M639.6,53.2h7.0M643.1,49.7v7.0 M642.3,35.7h7.0M645.8,32.2v7.0 M644.2,87.9h7.0M647.7,84.4v7.0 M646.5,150.0h7.0M650.0,146.5v7.0 M648.9,119.0h7.0M652.4,115.5v7.0 M651.1,81.0h7.0M654.6,77.5v7.0 M653.7,59.5h7.0M657.2,56.0v7.0 M655.7,93.3h7.0M659.2,89.8v7.0 M658.0,90.0h7.0M661.5,86.5v7.0 M660.7,86.4h7.0M664.2,82.9v7.0 M662.9,118.6h7.0M666.4,115.1v7.0 M664.1,25.0h7.0M667.6,21.5v7.0 M667.2,19.6h7.0M670.7,16.1v7.0 M672.6,33.4h7.0M676.1,29.9v7.0 M674.6,102.5h7.0M678.1,99.0v7.0" fill="none" stroke="#00ff00" stroke-width="1.0"/>
<path d="M455.5,72.6 L459.0,64.9 L463.2,60.0 L467.3,55.1 L471.5,47.4 L475.0,44.0 L478.5,49.5 L480.6,78.8 L482.7,113.7 L486.9,106.7 L491.1,99.8 L496.0,90.0 L500.1,85.8 L503.6,80.9 L505.7,94.2 L508.1,137.8 L510.6,170.4 L516.9,157.9 L521.9,140.3 L525.7,130.3 L528.9,112.8 L531.8,104.0 L535.8,122.6 L539.7,145.1 L544.6,138.2 L549.4,126.5 L554.3,114.8 L558.6,109.9 L561.2,116.7 L564.1,146.0 L567.0,172.4 L571.0,169.5 L574.9,159.7 L578.8,150.0 L582.7,142.1 L586.6,138.2 L590.5,146.0 L591.5,175.0 L593.9,206.0 L599.7,188.4 L605.6,178.7 L611.5,172.8 L617.3,165.0 L619.3,188.4 L622.8,213.9 L627.1,204.1 L633.0,196.3 L638.8,190.4 L643.7,184.5 L646.7,223.6 L649.4,258.7 L657.8,249.2 L663.0,241.9 L667.2,237.8 L671.3,225.2 L675.5,257.6 L678.0,286.9" fill="none" stroke="#ffa500" stroke-width="1.25" stroke-linejoin="round"/>
<path d="M452.0,72.6h7.0M455.5,69.1v7.0 M453.8,68.8h7.0M457.2,65.2v7.0 M455.5,64.9h7.0M459.0,61.4v7.0 M457.6,62.5h7.0M461.1,59.0v7.0 M459.7,60.0h7.0M463.2,56.5v7.0 M461.8,57.5h7.0M465.2,54.0v7.0 M463.8,55.1h7.0M467.3,51.6v7.0 M465.9,51.2h7.0M469.4,47.8v7.0 M468.0,47.4h7.0M471.5,43.9v7.0 M469.8,45.7h7.0M473.2,42.2v7.0 M471.5,44.0h7.0M475.0,40.5v7.0 M473.2,46.8h7.0M476.8,43.2v7.0 M475.0,49.5h7.0M478.5,46.0v7.0 M477.1,78.8h7.0M480.6,75.3v7.0 M479.2,113.7h7.0M482.7,110.2v7.0 M481.3,110.2h7.0M484.8,106.7v7.0 M483.4,106.7h7.0M486.9,103.2v7.0 M485.5,103.2h7.0M489.0,99.8v7.0 M487.6,99.8h7.0M491.1,96.3v7.0 M490.1,94.9h7.0M493.6,91.4v7.0 M492.5,90.0h7.0M496.0,86.5v7.0 M494.6,87.9h7.0M498.1,84.4v7.0 M496.6,85.8h7.0M500.1,82.3v7.0 M498.4,83.3h7.0M501.9,79.8v7.0 M500.1,80.9h7.0M503.6,77.4v7.0 M502.2,94.2h7.0M505.7,90.7v7.0 M504.6,137.8h7.0M508.1,134.3v7.0 M507.1,170.4h7.0M510.6,166.9v7.0 M509.2,166.2h7.0M512.7,162.7v7.0 M511.3,162.1h7.0M514.8,158.6v7.0 M513.4,157.9h7.0M516.9,154.4v7.0 M515.9,149.1h7.0M519.4,145.6v7.0 M518.4,140.3h7.0M521.9,136.8v7.0 M520.3,135.3h7.0M523.8,131.8v7.0 M522.2,130.3h7.0M525.7,126.8v7.0 M525.4,112.8h7.0M528.9,109.3v7.0 M528.3,104.0h7.0M531.8,100.5v7.0 M530.3,113.3h7.0M533.8,109.8v7.0 M532.3,122.6h7.0M535.8,119.1v7.0 M534.2,133.8h7.0M537.8,130.3v7.0 M536.2,145.1h7.0M539.7,141.6v7.0 M538.7,141.6h7.0M542.2,138.1v7.0 M541.1,138.2h7.0M544.6,134.7v7.0 M543.5,132.3h7.0M547.0,128.8v7.0 M545.9,126.5h7.0M549.4,123.0v7.0 M548.3,120.7h7.0M551.8,117.2v7.0 M550.8,114.8h7.0M554.3,111.3v7.0 M553.0,112.3h7.0M556.5,108.8v7.0 M555.1,109.9h7.0M558.6,106.4v7.0 M557.7,116.7h7.0M561.2,113.2v7.0 M560.6,146.0h7.0M564.1,142.5v7.0 M563.5,172.4h7.0M567.0,168.9v7.0 M565.5,170.9h7.0M569.0,167.4v7.0 M567.5,169.5h7.0M571.0,166.0v7.0 M569.5,164.6h7.0M573.0,161.1v7.0 M571.4,159.7h7.0M574.9,156.2v7.0 M573.3,154.8h7.0M576.8,151.3v7.0 M575.3,150.0h7.0M578.8,146.5v7.0 M577.2,146.1h7.0M580.8,142.6v7.0 M579.2,142.1h7.0M582.7,138.6v7.0 M581.2,140.1h7.0M584.7,136.6v7.0 M583.1,138.2h7.0M586.6,134.7v7.0 M585.0,142.1h7.0M588.5,138.6v7.0 M587.0,146.0h7.0M590.5,142.5v7.0 M588.0,175.0h7.0M591.5,171.5v7.0 M590.4,206.0h7.0M593.9,202.5v7.0 M593.3,197.2h7.0M596.8,193.7v7.0 M596.2,188.4h7.0M599.7,184.9v7.0 M598.2,185.2h7.0M601.7,181.7v7.0 M600.1,181.9h7.0M603.6,178.4v7.0 M602.1,178.7h7.0M605.6,175.2v7.0 M604.1,176.7h7.0M607.6,173.2v7.0 M606.0,174.8h7.0M609.5,171.3v7.0 M608.0,172.8h7.0M611.5,169.3v7.0 M610.9,168.9h7.0M614.4,165.4v7.0 M613.8,165.0h7.0M617.3,161.5v7.0 M615.8,188.4h7.0M619.3,184.9v7.0 M617.5,201.2h7.0M621.0,197.7v7.0 M619.3,213.9h7.0M622.8,210.4v7.0 M621.5,209.0h7.0M625.0,205.5v7.0 M623.6,204.1h7.0M627.1,200.6v7.0 M625.6,201.5h7.0M629.1,198.0v7.0 M627.5,198.9h7.0M631.0,195.4v7.0 M629.5,196.3h7.0M633.0,192.8v7.0 M632.4,193.4h7.0M635.9,189.9v7.0 M635.3,190.4h7.0M638.8,186.9v7.0 M637.8,187.4h7.0M641.2,183.9v7.0 M640.2,184.5h7.0M643.7,181.0v7.0 M643.2,223.6h7.0M646.7,220.1v7.0 M645.9,258.7h7.0M649.4,255.2v7.0 M648.0,256.3h7.0M651.5,252.8v7.0 M650.1,253.9h7.0M653.6,250.4v7.0 M652.2,251.6h7.0M655.7,248.1v7.0 M654.3,249.2h7.0M657.8,245.7v7.0 M656.9,245.6h7.0M660.4,242.1v7.0 M659.5,241.9h7.0M663.0,238.4v7.0 M661.6,239.9h7.0M665.1,236.4v7.0 M663.7,237.8h7.0M667.2,234.3v7.0 M665.8,231.5h7.0M669.2,228.0v7.0 M667.8,225.2h7.0M671.3,221.7v7.0 M669.9,241.4h7.0M673.4,237.9v7.0 M672.0,257.6h7.0M675.5,254.1v7.0 M674.5,286.9h7.0M678.0,283.4v7.0" fill="none" stroke="#ffa500" stroke-width="1.0"/>
</svg>
<rect x="408.5" y="17.5" width="308.0" height="315.0" fill="none" stroke="#000" stroke-width="1.1"/>
<text x="405.90" y="336.00" font-size="12.84" text-anchor="end" textLength="33.62" lengthAdjust="spacingAndGlyphs">−200</text>
<text x="405.90" y="291.00" font-size="12.84" text-anchor="end" textLength="33.62" lengthAdjust="spacingAndGlyphs">−150</text>
<text x="405.90" y="246.00" font-size="12.84" text-anchor="end" textLength="33.62" lengthAdjust="spacingAndGlyphs">−100</text>
<text x="405.90" y="201.00" font-size="12.84" text-anchor="end" textLength="25.83" lengthAdjust="spacingAndGlyphs">−50</text>
<text x="405.90" y="156.00" font-size="12.84" text-anchor="end" textLength="7.79" lengthAdjust="spacingAndGlyphs">0</text>
<text x="405.90" y="111.00" font-size="12.84" text-anchor="end" textLength="15.58" lengthAdjust="spacingAndGlyphs">50</text>
<text x="405.90" y="66.00" font-size="12.84" text-anchor="end" textLength="23.36" lengthAdjust="spacingAndGlyphs">100</text>
<text x="405.90" y="21.00" font-size="12.84" text-anchor="end" textLength="23.36" lengthAdjust="spacingAndGlyphs">150</text>
<path d="M408.90,332.5v-4M408.90,17.5v4 M464.90,332.5v-4M464.90,17.5v4 M520.90,332.5v-4M520.90,17.5v4 M576.90,332.5v-4M576.90,17.5v4 M632.90,332.5v-4M632.90,17.5v4 M688.90,332.5v-4M688.90,17.5v4 M408.5,332.50h4M716.5,332.50h-4 M408.5,287.50h4M716.5,287.50h-4 M408.5,242.50h4M716.5,242.50h-4 M408.5,197.50h4M716.5,197.50h-4 M408.5,152.50h4M716.5,152.50h-4 M408.5,107.50h4M716.5,107.50h-4 M408.5,62.50h4M716.5,62.50h-4 M408.5,17.50h4M716.5,17.50h-4" stroke="#000" stroke-width="1.0" fill="none"/>
<g transform="translate(563.10,12.20) scale(1,1.0)">
<text x="0.00" y="0.00" font-size="15.84" text-anchor="middle" textLength="111.06" lengthAdjust="spacingAndGlyphs">Northeast (NE)</text>
</g>
<text x="423.70" y="44.90" font-size="17.6">b</text>
<g transform="translate(435.67,44.90) scale(0.8,0.9)"><text x="0" y="0" font-size="17.6">)</text></g>
<svg x="55.0" y="363.5" width="307.5" height="315.0" viewBox="55.0 363.5 307.5 315.0" overflow="hidden">
<path d="M101.9,474.3 L105.0,461.0 L107.8,442.9 L110.8,434.5 L114.0,454.1 L117.5,440.8 L118.2,425.5 L121.4,395.5 L124.5,425.5 L125.9,449.2 L128.7,484.1 L130.8,465.9 L134.3,449.9 L138.5,461.7 L140.6,443.6 L142.6,429.6 L146.8,404.5 L151.0,424.1 L154.9,423.5 L156.3,438.1 L158.4,466.0 L161.2,450.0 L164.7,465.3 L168.1,454.2 L170.9,443.7 L175.1,428.4 L177.2,443.0 L179.3,416.5 L181.4,434.6 L183.5,465.3 L186.3,447.2 L189.1,469.5 L193.3,447.9 L196.0,477.9 L200.2,443.7 L203.0,469.5 L205.1,451.4 L207.1,460.0 L209.9,477.4 L214.1,523.5 L218.3,510.9 L220.5,505.0 L223.8,491.4 L226.5,498.0 L230.1,483.0 L232.2,502.6 L234.2,497.0 L236.4,498.4 L238.2,535.0 L240.4,569.0 L242.7,519.9 L245.0,544.4 L247.3,515.3 L249.6,532.9 L251.9,510.7 L254.2,516.8 L256.5,502.2 L261.1,494.6 L264.2,503.0 L266.5,513.0 L268.0,538.3 L270.3,550.6 L272.6,533.7 L275.2,585.9 L278.0,541.4 L281.0,538.0 L284.1,509.2 L286.0,525.0 L288.7,542.9 L290.2,553.7 L293.4,572.9 L295.5,598.0 L298.3,638.7 L300.7,641.9 L305.3,605.3 L310.1,669.0 L312.2,567.6 L314.3,626.2 L317.4,634.5 L322.6,649.2 L323.7,665.9" fill="none" stroke="#0000ff" stroke-width="1.25" stroke-linejoin="round"/>
<path d="M98.4,474.3h7.0M101.9,470.8v7.0 M101.5,461.0h7.0M105.0,457.5v7.0 M104.3,442.9h7.0M107.8,439.4v7.0 M107.3,434.5h7.0M110.8,431.0v7.0 M110.5,454.1h7.0M114.0,450.6v7.0 M114.0,440.8h7.0M117.5,437.3v7.0 M114.7,425.5h7.0M118.2,422.0v7.0 M117.9,395.5h7.0M121.4,392.0v7.0 M121.0,425.5h7.0M124.5,422.0v7.0 M122.4,449.2h7.0M125.9,445.7v7.0 M125.2,484.1h7.0M128.7,480.6v7.0 M127.3,465.9h7.0M130.8,462.4v7.0 M130.8,449.9h7.0M134.3,446.4v7.0 M135.0,461.7h7.0M138.5,458.2v7.0 M137.1,443.6h7.0M140.6,440.1v7.0 M139.1,429.6h7.0M142.6,426.1v7.0 M143.3,404.5h7.0M146.8,401.0v7.0 M147.5,424.1h7.0M151.0,420.6v7.0 M151.4,423.5h7.0M154.9,420.0v7.0 M152.8,438.1h7.0M156.3,434.6v7.0 M154.9,466.0h7.0M158.4,462.5v7.0 M157.7,450.0h7.0M161.2,446.5v7.0 M161.2,465.3h7.0M164.7,461.8v7.0 M164.6,454.2h7.0M168.1,450.7v7.0 M167.4,443.7h7.0M170.9,440.2v7.0 M171.6,428.4h7.0M175.1,424.9v7.0 M173.7,443.0h7.0M177.2,439.5v7.0 M175.8,416.5h7.0M179.3,413.0v7.0 M177.9,434.6h7.0M181.4,431.1v7.0 M180.0,465.3h7.0M183.5,461.8v7.0 M182.8,447.2h7.0M186.3,443.7v7.0 M185.6,469.5h7.0M189.1,466.0v7.0 M189.8,447.9h7.0M193.3,444.4v7.0 M192.5,477.9h7.0M196.0,474.4v7.0 M196.7,443.7h7.0M200.2,440.2v7.0 M199.5,469.5h7.0M203.0,466.0v7.0 M201.6,451.4h7.0M205.1,447.9v7.0 M203.6,460.0h7.0M207.1,456.5v7.0 M206.4,477.4h7.0M209.9,473.9v7.0 M210.6,523.5h7.0M214.1,520.0v7.0 M214.8,510.9h7.0M218.3,507.4v7.0 M217.0,505.0h7.0M220.5,501.5v7.0 M220.3,491.4h7.0M223.8,487.9v7.0 M223.0,498.0h7.0M226.5,494.5v7.0 M226.6,483.0h7.0M230.1,479.5v7.0 M228.7,502.6h7.0M232.2,499.1v7.0 M230.7,497.0h7.0M234.2,493.5v7.0 M232.9,498.4h7.0M236.4,494.9v7.0 M234.7,535.0h7.0M238.2,531.5v7.0 M236.9,569.0h7.0M240.4,565.5v7.0 M239.2,519.9h7.0M242.7,516.4v7.0 M241.5,544.4h7.0M245.0,540.9v7.0 M243.8,515.3h7.0M247.3,511.8v7.0 M246.1,532.9h7.0M249.6,529.4v7.0 M248.4,510.7h7.0M251.9,507.2v7.0 M250.7,516.8h7.0M254.2,513.3v7.0 M253.0,502.2h7.0M256.5,498.7v7.0 M257.6,494.6h7.0M261.1,491.1v7.0 M260.7,503.0h7.0M264.2,499.5v7.0 M263.0,513.0h7.0M266.5,509.5v7.0 M264.5,538.3h7.0M268.0,534.8v7.0 M266.8,550.6h7.0M270.3,547.1v7.0 M269.1,533.7h7.0M272.6,530.2v7.0 M271.7,585.9h7.0M275.2,582.4v7.0 M274.5,541.4h7.0M278.0,537.9v7.0 M277.5,538.0h7.0M281.0,534.5v7.0 M280.6,509.2h7.0M284.1,505.7v7.0 M282.5,525.0h7.0M286.0,521.5v7.0 M285.2,542.9h7.0M288.7,539.4v7.0 M286.7,553.7h7.0M290.2,550.2v7.0 M289.9,572.9h7.0M293.4,569.4v7.0 M292.0,598.0h7.0M295.5,594.5v7.0 M294.8,638.7h7.0M298.3,635.2v7.0 M297.2,641.9h7.0M300.7,638.4v7.0 M301.8,605.3h7.0M305.3,601.8v7.0 M306.6,669.0h7.0M310.1,665.5v7.0 M308.7,567.6h7.0M312.2,564.1v7.0 M310.8,626.2h7.0M314.3,622.7v7.0 M313.9,634.5h7.0M317.4,631.0v7.0 M319.1,649.2h7.0M322.6,645.7v7.0 M320.2,665.9h7.0M323.7,662.4v7.0" fill="none" stroke="#0000ff" stroke-width="1.0"/>
<path d="M101.9,473.3 L105.0,460.0 L107.8,441.9 L110.8,433.5 L114.0,453.1 L117.5,439.8 L118.2,424.5 L121.4,394.5 L124.5,424.5 L125.9,448.2 L128.7,483.1 L130.8,464.9 L134.3,448.9 L138.5,460.7 L140.6,442.6 L142.6,428.6 L146.8,403.5 L151.0,423.1 L154.9,422.5 L156.3,437.1 L158.4,465.0 L161.2,449.0 L164.7,464.3 L168.1,453.2 L170.9,442.7 L175.1,427.4 L177.2,442.0 L179.3,415.5 L181.4,433.6 L183.5,464.3 L186.3,446.2 L189.1,468.5 L193.3,446.9 L196.0,476.9 L200.2,442.7 L203.0,468.5 L205.1,450.4 L207.1,459.0 L209.9,476.4 L214.1,522.5 L218.3,509.9 L220.5,504.0 L223.8,490.4 L226.5,497.0 L230.1,482.0 L232.2,501.6 L234.2,496.0 L236.4,497.4 L238.2,534.0 L240.4,568.0 L242.7,518.9 L245.0,543.4 L247.3,514.3 L249.6,531.9 L251.9,509.7 L254.2,515.8 L256.5,501.2 L261.1,493.6 L264.2,502.0 L266.5,512.0 L268.0,537.3 L270.3,549.6 L272.6,532.7 L275.2,584.9 L278.0,540.4 L281.0,537.0 L284.1,508.2 L286.0,524.0 L288.7,541.9 L290.2,552.7 L293.4,571.9 L295.5,597.0 L298.3,637.7 L300.7,640.9 L305.3,604.3 L310.1,668.0 L312.2,566.6 L314.3,625.2 L317.4,633.5 L322.6,648.2 L323.7,664.9" fill="none" stroke="#ff0000" stroke-width="1.25" stroke-linejoin="round"/>
<path d="M98.4,473.3h7.0M101.9,469.8v7.0 M101.5,460.0h7.0M105.0,456.5v7.0 M104.3,441.9h7.0M107.8,438.4v7.0 M107.3,433.5h7.0M110.8,430.0v7.0 M110.5,453.1h7.0M114.0,449.6v7.0 M114.0,439.8h7.0M117.5,436.3v7.0 M114.7,424.5h7.0M118.2,421.0v7.0 M117.9,394.5h7.0M121.4,391.0v7.0 M121.0,424.5h7.0M124.5,421.0v7.0 M122.4,448.2h7.0M125.9,444.7v7.0 M125.2,483.1h7.0M128.7,479.6v7.0 M127.3,464.9h7.0M130.8,461.4v7.0 M130.8,448.9h7.0M134.3,445.4v7.0 M135.0,460.7h7.0M138.5,457.2v7.0 M137.1,442.6h7.0M140.6,439.1v7.0 M139.1,428.6h7.0M142.6,425.1v7.0 M143.3,403.5h7.0M146.8,400.0v7.0 M147.5,423.1h7.0M151.0,419.6v7.0 M151.4,422.5h7.0M154.9,419.0v7.0 M152.8,437.1h7.0M156.3,433.6v7.0 M154.9,465.0h7.0M158.4,461.5v7.0 M157.7,449.0h7.0M161.2,445.5v7.0 M161.2,464.3h7.0M164.7,460.8v7.0 M164.6,453.2h7.0M168.1,449.7v7.0 M167.4,442.7h7.0M170.9,439.2v7.0 M171.6,427.4h7.0M175.1,423.9v7.0 M173.7,442.0h7.0M177.2,438.5v7.0 M175.8,415.5h7.0M179.3,412.0v7.0 M177.9,433.6h7.0M181.4,430.1v7.0 M180.0,464.3h7.0M183.5,460.8v7.0 M182.8,446.2h7.0M186.3,442.7v7.0 M185.6,468.5h7.0M189.1,465.0v7.0 M189.8,446.9h7.0M193.3,443.4v7.0 M192.5,476.9h7.0M196.0,473.4v7.0 M196.7,442.7h7.0M200.2,439.2v7.0 M199.5,468.5h7.0M203.0,465.0v7.0 M201.6,450.4h7.0M205.1,446.9v7.0 M203.6,459.0h7.0M207.1,455.5v7.0 M206.4,476.4h7.0M209.9,472.9v7.0 M210.6,522.5h7.0M214.1,519.0v7.0 M214.8,509.9h7.0M218.3,506.4v7.0 M217.0,504.0h7.0M220.5,500.5v7.0 M220.3,490.4h7.0M223.8,486.9v7.0 M223.0,497.0h7.0M226.5,493.5v7.0 M226.6,482.0h7.0M230.1,478.5v7.0 M228.7,501.6h7.0M232.2,498.1v7.0 M230.7,496.0h7.0M234.2,492.5v7.0 M232.9,497.4h7.0M236.4,493.9v7.0 M234.7,534.0h7.0M238.2,530.5v7.0 M236.9,568.0h7.0M240.4,564.5v7.0 M239.2,518.9h7.0M242.7,515.4v7.0 M241.5,543.4h7.0M245.0,539.9v7.0 M243.8,514.3h7.0M247.3,510.8v7.0 M246.1,531.9h7.0M249.6,528.4v7.0 M248.4,509.7h7.0M251.9,506.2v7.0 M250.7,515.8h7.0M254.2,512.3v7.0 M253.0,501.2h7.0M256.5,497.7v7.0 M257.6,493.6h7.0M261.1,490.1v7.0 M260.7,502.0h7.0M264.2,498.5v7.0 M263.0,512.0h7.0M266.5,508.5v7.0 M264.5,537.3h7.0M268.0,533.8v7.0 M266.8,549.6h7.0M270.3,546.1v7.0 M269.1,532.7h7.0M272.6,529.2v7.0 M271.7,584.9h7.0M275.2,581.4v7.0 M274.5,540.4h7.0M278.0,536.9v7.0 M277.5,537.0h7.0M281.0,533.5v7.0 M280.6,508.2h7.0M284.1,504.7v7.0 M282.5,524.0h7.0M286.0,520.5v7.0 M285.2,541.9h7.0M288.7,538.4v7.0 M286.7,552.7h7.0M290.2,549.2v7.0 M289.9,571.9h7.0M293.4,568.4v7.0 M292.0,597.0h7.0M295.5,593.5v7.0 M294.8,637.7h7.0M298.3,634.2v7.0 M297.2,640.9h7.0M300.7,637.4v7.0 M301.8,604.3h7.0M305.3,600.8v7.0 M306.6,668.0h7.0M310.1,664.5v7.0 M308.7,566.6h7.0M312.2,563.1v7.0 M310.8,625.2h7.0M314.3,621.7v7.0 M313.9,633.5h7.0M317.4,630.0v7.0 M319.1,648.2h7.0M322.6,644.7v7.0 M320.2,664.9h7.0M323.7,661.4v7.0" fill="none" stroke="#ff0000" stroke-width="1.0"/>
<path d="M101.9,475.8 L105.0,462.5 L107.8,444.4 L110.8,436.0 L114.0,455.6 L117.5,442.3 L118.2,427.0 L121.4,397.0 L124.5,427.0 L125.9,450.7 L128.7,485.6 L130.8,467.4 L134.3,451.4 L138.5,463.2 L140.6,445.1 L142.6,431.1 L146.8,406.0 L151.0,425.6 L154.9,425.0 L156.3,439.6 L158.4,467.5 L161.2,451.5 L164.7,466.8 L168.1,455.7 L170.9,445.2 L175.1,429.9 L177.2,444.5 L179.3,418.0 L181.4,436.1 L183.5,466.8 L186.3,448.7 L189.1,471.0 L193.3,449.4 L196.0,479.4 L200.2,445.2 L203.0,471.0 L205.1,452.9 L207.1,461.5 L209.9,478.9 L214.1,525.0 L218.3,512.4 L220.5,506.5 L223.8,492.9 L226.5,499.5 L230.1,484.5 L232.2,504.1 L234.2,498.5 L236.4,499.9 L238.2,536.5 L240.4,570.5 L242.7,521.4 L245.0,545.9 L247.3,516.8 L249.6,534.4 L251.9,512.2 L254.2,518.3 L256.5,503.7 L261.1,496.1 L264.2,504.5 L266.5,514.5 L268.0,539.8 L270.3,552.1 L272.6,535.2 L275.2,587.4 L278.0,542.9 L281.0,539.5 L284.1,510.7 L286.0,526.5 L288.7,544.4 L290.2,555.2 L293.4,574.4 L295.5,599.5 L298.3,640.2 L300.7,643.4 L305.3,606.8 L310.1,670.5 L312.2,569.1 L314.3,627.7 L317.4,636.0 L322.6,650.7 L323.7,667.4" fill="none" stroke="#00ff00" stroke-width="1.25" stroke-linejoin="round"/>
<path d="M98.4,475.8h7.0M101.9,472.3v7.0 M101.5,462.5h7.0M105.0,459.0v7.0 M104.3,444.4h7.0M107.8,440.9v7.0 M107.3,436.0h7.0M110.8,432.5v7.0 M110.5,455.6h7.0M114.0,452.1v7.0 M114.0,442.3h7.0M117.5,438.8v7.0 M114.7,427.0h7.0M118.2,423.5v7.0 M117.9,397.0h7.0M121.4,393.5v7.0 M121.0,427.0h7.0M124.5,423.5v7.0 M122.4,450.7h7.0M125.9,447.2v7.0 M125.2,485.6h7.0M128.7,482.1v7.0 M127.3,467.4h7.0M130.8,463.9v7.0 M130.8,451.4h7.0M134.3,447.9v7.0 M135.0,463.2h7.0M138.5,459.7v7.0 M137.1,445.1h7.0M140.6,441.6v7.0 M139.1,431.1h7.0M142.6,427.6v7.0 M143.3,406.0h7.0M146.8,402.5v7.0 M147.5,425.6h7.0M151.0,422.1v7.0 M151.4,425.0h7.0M154.9,421.5v7.0 M152.8,439.6h7.0M156.3,436.1v7.0 M154.9,467.5h7.0M158.4,464.0v7.0 M157.7,451.5h7.0M161.2,448.0v7.0 M161.2,466.8h7.0M164.7,463.3v7.0 M164.6,455.7h7.0M168.1,452.2v7.0 M167.4,445.2h7.0M170.9,441.7v7.0 M171.6,429.9h7.0M175.1,426.4v7.0 M173.7,444.5h7.0M177.2,441.0v7.0 M175.8,418.0h7.0M179.3,414.5v7.0 M177.9,436.1h7.0M181.4,432.6v7.0 M180.0,466.8h7.0M183.5,463.3v7.0 M182.8,448.7h7.0M186.3,445.2v7.0 M185.6,471.0h7.0M189.1,467.5v7.0 M189.8,449.4h7.0M193.3,445.9v7.0 M192.5,479.4h7.0M196.0,475.9v7.0 M196.7,445.2h7.0M200.2,441.7v7.0 M199.5,471.0h7.0M203.0,467.5v7.0 M201.6,452.9h7.0M205.1,449.4v7.0 M203.6,461.5h7.0M207.1,458.0v7.0 M206.4,478.9h7.0M209.9,475.4v7.0 M210.6,525.0h7.0M214.1,521.5v7.0 M214.8,512.4h7.0M218.3,508.9v7.0 M217.0,506.5h7.0M220.5,503.0v7.0 M220.3,492.9h7.0M223.8,489.4v7.0 M223.0,499.5h7.0M226.5,496.0v7.0 M226.6,484.5h7.0M230.1,481.0v7.0 M228.7,504.1h7.0M232.2,500.6v7.0 M230.7,498.5h7.0M234.2,495.0v7.0 M232.9,499.9h7.0M236.4,496.4v7.0 M234.7,536.5h7.0M238.2,533.0v7.0 M236.9,570.5h7.0M240.4,567.0v7.0 M239.2,521.4h7.0M242.7,517.9v7.0 M241.5,545.9h7.0M245.0,542.4v7.0 M243.8,516.8h7.0M247.3,513.3v7.0 M246.1,534.4h7.0M249.6,530.9v7.0 M248.4,512.2h7.0M251.9,508.7v7.0 M250.7,518.3h7.0M254.2,514.8v7.0 M253.0,503.7h7.0M256.5,500.2v7.0 M257.6,496.1h7.0M261.1,492.6v7.0 M260.7,504.5h7.0M264.2,501.0v7.0 M263.0,514.5h7.0M266.5,511.0v7.0 M264.5,539.8h7.0M268.0,536.3v7.0 M266.8,552.1h7.0M270.3,548.6v7.0 M269.1,535.2h7.0M272.6,531.7v7.0 M271.7,587.4h7.0M275.2,583.9v7.0 M274.5,542.9h7.0M278.0,539.4v7.0 M277.5,539.5h7.0M281.0,536.0v7.0 M280.6,510.7h7.0M284.1,507.2v7.0 M282.5,526.5h7.0M286.0,523.0v7.0 M285.2,544.4h7.0M288.7,540.9v7.0 M286.7,555.2h7.0M290.2,551.7v7.0 M289.9,574.4h7.0M293.4,570.9v7.0 M292.0,599.5h7.0M295.5,596.0v7.0 M294.8,640.2h7.0M298.3,636.7v7.0 M297.2,643.4h7.0M300.7,639.9v7.0 M301.8,606.8h7.0M305.3,603.3v7.0 M306.6,670.5h7.0M310.1,667.0v7.0 M308.7,569.1h7.0M312.2,565.6v7.0 M310.8,627.7h7.0M314.3,624.2v7.0 M313.9,636.0h7.0M317.4,632.5v7.0 M319.1,650.7h7.0M322.6,647.2v7.0 M320.2,667.4h7.0M323.7,663.9v7.0" fill="none" stroke="#00ff00" stroke-width="1.0"/>
<path d="M102.2,476.4 L106.4,457.6 L109.2,449.2 L112.0,439.4 L115.4,431.0 L118.9,422.7 L122.4,424.8 L125.2,441.5 L128.0,463.1 L130.8,468.7 L134.3,460.3 L137.8,449.2 L140.6,436.6 L144.0,425.5 L146.8,417.1 L150.3,410.1 L153.1,419.9 L156.3,449.3 L158.4,451.4 L161.2,440.9 L164.0,432.6 L167.4,427.7 L170.9,424.9 L174.4,420.0 L177.9,415.8 L180.0,423.5 L182.8,437.4 L184.2,459.8 L186.3,473.7 L190.5,472.3 L194.6,464.0 L198.8,455.6 L202.3,448.6 L205.1,446.5 L207.8,456.5 L209.2,487.2 L212.0,516.5 L214.1,522.8 L217.6,512.3 L220.3,500.5 L225.9,495.6 L229.4,492.8 L232.9,491.4 L235.7,506.0 L238.5,540.0 L241.1,564.4 L243.4,552.1 L246.5,536.8 L249.6,524.5 L253.4,520.7 L257.2,519.1 L261.1,516.8 L263.4,521.4 L264.9,541.4 L268.0,559.8 L271.8,553.7 L275.7,546.0 L279.5,541.4 L284.1,533.7 L287.9,530.6 L291.3,544.6 L293.4,580.2 L295.5,617.8 L298.6,636.6 L302.8,632.4 L305.9,626.2 L309.0,617.8 L312.2,613.6 L316.4,609.4 L319.5,630.4 L322.6,647.1 L323.7,674.3" fill="none" stroke="#ffa500" stroke-width="1.25" stroke-linejoin="round"/>
<path d="M98.7,476.4h7.0M102.2,472.9v7.0 M100.8,467.0h7.0M104.3,463.5v7.0 M102.9,457.6h7.0M106.4,454.1v7.0 M105.7,449.2h7.0M109.2,445.7v7.0 M108.5,439.4h7.0M112.0,435.9v7.0 M111.9,431.0h7.0M115.4,427.5v7.0 M113.7,426.9h7.0M117.2,423.4v7.0 M115.4,422.7h7.0M118.9,419.2v7.0 M117.2,423.8h7.0M120.7,420.2v7.0 M118.9,424.8h7.0M122.4,421.3v7.0 M121.7,441.5h7.0M125.2,438.0v7.0 M124.5,463.1h7.0M128.0,459.6v7.0 M127.3,468.7h7.0M130.8,465.2v7.0 M129.1,464.5h7.0M132.6,461.0v7.0 M130.8,460.3h7.0M134.3,456.8v7.0 M132.6,454.8h7.0M136.1,451.2v7.0 M134.3,449.2h7.0M137.8,445.7v7.0 M137.1,436.6h7.0M140.6,433.1v7.0 M140.5,425.5h7.0M144.0,422.0v7.0 M143.3,417.1h7.0M146.8,413.6v7.0 M145.1,413.6h7.0M148.6,410.1v7.0 M146.8,410.1h7.0M150.3,406.6v7.0 M149.6,419.9h7.0M153.1,416.4v7.0 M152.8,449.3h7.0M156.3,445.8v7.0 M154.9,451.4h7.0M158.4,447.9v7.0 M157.7,440.9h7.0M161.2,437.4v7.0 M160.5,432.6h7.0M164.0,429.1v7.0 M163.9,427.7h7.0M167.4,424.2v7.0 M165.7,426.3h7.0M169.2,422.8v7.0 M167.4,424.9h7.0M170.9,421.4v7.0 M169.2,422.4h7.0M172.7,418.9v7.0 M170.9,420.0h7.0M174.4,416.5v7.0 M172.7,417.9h7.0M176.2,414.4v7.0 M174.4,415.8h7.0M177.9,412.3v7.0 M176.5,423.5h7.0M180.0,420.0v7.0 M179.3,437.4h7.0M182.8,433.9v7.0 M180.7,459.8h7.0M184.2,456.3v7.0 M182.8,473.7h7.0M186.3,470.2v7.0 M184.9,473.0h7.0M188.4,469.5v7.0 M187.0,472.3h7.0M190.5,468.8v7.0 M189.1,468.1h7.0M192.6,464.6v7.0 M191.1,464.0h7.0M194.6,460.5v7.0 M193.2,459.8h7.0M196.7,456.3v7.0 M195.3,455.6h7.0M198.8,452.1v7.0 M197.1,452.1h7.0M200.6,448.6v7.0 M198.8,448.6h7.0M202.3,445.1v7.0 M201.6,446.5h7.0M205.1,443.0v7.0 M204.3,456.5h7.0M207.8,453.0v7.0 M205.7,487.2h7.0M209.2,483.7v7.0 M208.5,516.5h7.0M212.0,513.0v7.0 M210.6,522.8h7.0M214.1,519.3v7.0 M212.3,517.5h7.0M215.8,514.0v7.0 M214.1,512.3h7.0M217.6,508.8v7.0 M216.8,500.5h7.0M220.3,497.0v7.0 M219.6,498.1h7.0M223.1,494.6v7.0 M222.4,495.6h7.0M225.9,492.1v7.0 M224.2,494.2h7.0M227.7,490.7v7.0 M225.9,492.8h7.0M229.4,489.3v7.0 M227.7,492.1h7.0M231.2,488.6v7.0 M229.4,491.4h7.0M232.9,487.9v7.0 M232.2,506.0h7.0M235.7,502.5v7.0 M235.0,540.0h7.0M238.5,536.5v7.0 M237.6,564.4h7.0M241.1,560.9v7.0 M239.9,552.1h7.0M243.4,548.6v7.0 M243.0,536.8h7.0M246.5,533.3v7.0 M246.1,524.5h7.0M249.6,521.0v7.0 M248.0,522.6h7.0M251.5,519.1v7.0 M249.9,520.7h7.0M253.4,517.2v7.0 M251.8,519.9h7.0M255.3,516.4v7.0 M253.7,519.1h7.0M257.2,515.6v7.0 M255.6,518.0h7.0M259.1,514.5v7.0 M257.6,516.8h7.0M261.1,513.3v7.0 M259.9,521.4h7.0M263.4,517.9v7.0 M261.4,541.4h7.0M264.9,537.9v7.0 M264.5,559.8h7.0M268.0,556.3v7.0 M266.4,556.8h7.0M269.9,553.2v7.0 M268.3,553.7h7.0M271.8,550.2v7.0 M270.2,549.9h7.0M273.8,546.4v7.0 M272.2,546.0h7.0M275.7,542.5v7.0 M274.1,543.7h7.0M277.6,540.2v7.0 M276.0,541.4h7.0M279.5,537.9v7.0 M278.3,537.5h7.0M281.8,534.0v7.0 M280.6,533.7h7.0M284.1,530.2v7.0 M282.5,532.2h7.0M286.0,528.7v7.0 M284.4,530.6h7.0M287.9,527.1v7.0 M287.8,544.6h7.0M291.3,541.1v7.0 M289.9,580.2h7.0M293.4,576.7v7.0 M292.0,617.8h7.0M295.5,614.3v7.0 M295.1,636.6h7.0M298.6,633.1v7.0 M297.2,634.5h7.0M300.7,631.0v7.0 M299.3,632.4h7.0M302.8,628.9v7.0 M302.4,626.2h7.0M305.9,622.7v7.0 M305.5,617.8h7.0M309.0,614.3v7.0 M308.7,613.6h7.0M312.2,610.1v7.0 M310.8,611.5h7.0M314.3,608.0v7.0 M312.9,609.4h7.0M316.4,605.9v7.0 M316.0,630.4h7.0M319.5,626.9v7.0 M319.1,647.1h7.0M322.6,643.6v7.0 M320.2,674.3h7.0M323.7,670.8v7.0" fill="none" stroke="#ffa500" stroke-width="1.0"/>
</svg>
<rect x="55.0" y="363.5" width="307.5" height="315.0" fill="none" stroke="#000" stroke-width="1.1"/>
<text x="55.50" y="692.15" font-size="12.84" text-anchor="middle" textLength="31.61" lengthAdjust="spacingAndGlyphs">2002</text>
<text x="111.41" y="692.15" font-size="12.84" text-anchor="middle" textLength="31.61" lengthAdjust="spacingAndGlyphs">2004</text>
<text x="167.32" y="692.15" font-size="12.84" text-anchor="middle" textLength="31.61" lengthAdjust="spacingAndGlyphs">2006</text>
<text x="223.23" y="692.15" font-size="12.84" text-anchor="middle" textLength="31.61" lengthAdjust="spacingAndGlyphs">2008</text>
<text x="279.14" y="692.15" font-size="12.84" text-anchor="middle" textLength="31.61" lengthAdjust="spacingAndGlyphs">2010</text>
<text x="335.05" y="692.15" font-size="12.84" text-anchor="middle" textLength="31.61" lengthAdjust="spacingAndGlyphs">2012</text>
<text x="52.40" y="682.00" font-size="12.84" text-anchor="end" textLength="33.62" lengthAdjust="spacingAndGlyphs">−400</text>
<text x="52.40" y="637.00" font-size="12.84" text-anchor="end" textLength="33.62" lengthAdjust="spacingAndGlyphs">−300</text>
<text x="52.40" y="592.00" font-size="12.84" text-anchor="end" textLength="33.62" lengthAdjust="spacingAndGlyphs">−200</text>
<text x="52.40" y="547.00" font-size="12.84" text-anchor="end" textLength="33.62" lengthAdjust="spacingAndGlyphs">−100</text>
<text x="52.40" y="502.00" font-size="12.84" text-anchor="end" textLength="7.79" lengthAdjust="spacingAndGlyphs">0</text>
<text x="52.40" y="457.00" font-size="12.84" text-anchor="end" textLength="23.36" lengthAdjust="spacingAndGlyphs">100</text>
<text x="52.40" y="412.00" font-size="12.84" text-anchor="end" textLength="23.36" lengthAdjust="spacingAndGlyphs">200</text>
<text x="52.40" y="367.00" font-size="12.84" text-anchor="end" textLength="23.36" lengthAdjust="spacingAndGlyphs">300</text>
<path d="M55.00,678.5v-4M55.00,363.5v4 M110.91,678.5v-4M110.91,363.5v4 M166.82,678.5v-4M166.82,363.5v4 M222.73,678.5v-4M222.73,363.5v4 M278.64,678.5v-4M278.64,363.5v4 M334.55,678.5v-4M334.55,363.5v4 M55.0,678.50h4M362.5,678.50h-4 M55.0,633.50h4M362.5,633.50h-4 M55.0,588.50h4M362.5,588.50h-4 M55.0,543.50h4M362.5,543.50h-4 M55.0,498.50h4M362.5,498.50h-4 M55.0,453.50h4M362.5,453.50h-4 M55.0,408.50h4M362.5,408.50h-4 M55.0,363.50h4M362.5,363.50h-4" stroke="#000" stroke-width="1.0" fill="none"/>
<g transform="translate(209.35,358.20) scale(1,1.0)">
<text x="0.00" y="0.00" font-size="15.84" text-anchor="middle" textLength="119.42" lengthAdjust="spacingAndGlyphs">Southwest (SW)</text>
</g>
<text x="70.20" y="390.90" font-size="17.6">c</text>
<g transform="translate(80.70,390.90) scale(0.8,0.9)"><text x="0" y="0" font-size="17.6">)</text></g>
<text x="209.05" y="714.20" font-size="12.84" text-anchor="middle" textLength="57.00" lengthAdjust="spacingAndGlyphs">Time [Yr]</text>
<g transform="translate(9.9,520.50) rotate(-90)">
<text x="0.00" y="0.00" font-size="12.84" text-anchor="middle" textLength="60.26" lengthAdjust="spacingAndGlyphs">Mass [Gt]</text>
</g>
<svg x="408.5" y="363.5" width="308.0" height="315.0" viewBox="408.5 363.5 308.0 315.0" overflow="hidden">
<path d="M455.5,408.5 L458.0,411.0 L460.4,417.1 L463.9,422.0 L467.3,412.9 L469.4,404.5 L472.7,399.0 L475.0,407.3 L477.1,402.4 L479.0,414.0 L481.3,422.7 L484.1,432.4 L486.5,445.0 L489.0,457.6 L491.8,440.8 L495.3,449.2 L498.0,440.8 L500.5,441.0 L503.6,442.2 L505.9,445.0 L507.5,465.1 L509.2,483.6 L511.7,490.3 L515.9,502.8 L518.4,481.9 L520.9,484.4 L525.1,472.7 L528.5,492.0 L531.0,476.9 L533.5,488.6 L536.9,503.7 L538.5,517.1 L541.1,532.2 L544.4,520.4 L547.8,540.6 L551.1,508.7 L554.5,523.8 L556.5,500.0 L559.0,503.0 L561.9,506.1 L565.7,550.6 L568.8,553.7 L572.6,549.8 L576.5,545.2 L579.6,539.1 L582.6,527.6 L585.7,530.7 L588.0,536.0 L591.1,543.7 L594.1,556.0 L596.1,582.1 L599.5,571.3 L601.0,575.9 L604.1,552.9 L607.6,547.8 L610.4,557.6 L612.5,552.0 L615.7,546.8 L620.3,559.1 L621.9,576.0 L624.9,591.3 L628.0,577.5 L631.1,566.8 L634.9,571.4 L638.0,585.2 L641.8,562.9 L644.9,571.4 L646.4,594.4 L648.9,615.2 L652.8,618.2 L656.7,615.2 L659.1,633.8 L664.0,600.6 L666.5,641.6 L670.8,602.5 L675.3,628.9 L678.2,657.3" fill="none" stroke="#0000ff" stroke-width="1.25" stroke-linejoin="round"/>
<path d="M452.0,408.5h7.0M455.5,405.0v7.0 M454.5,411.0h7.0M458.0,407.5v7.0 M456.9,417.1h7.0M460.4,413.6v7.0 M460.4,422.0h7.0M463.9,418.5v7.0 M463.8,412.9h7.0M467.3,409.4v7.0 M465.9,404.5h7.0M469.4,401.0v7.0 M469.2,399.0h7.0M472.7,395.5v7.0 M471.5,407.3h7.0M475.0,403.8v7.0 M473.6,402.4h7.0M477.1,398.9v7.0 M475.5,414.0h7.0M479.0,410.5v7.0 M477.8,422.7h7.0M481.3,419.2v7.0 M480.6,432.4h7.0M484.1,428.9v7.0 M483.0,445.0h7.0M486.5,441.5v7.0 M485.5,457.6h7.0M489.0,454.1v7.0 M488.3,440.8h7.0M491.8,437.3v7.0 M491.8,449.2h7.0M495.3,445.7v7.0 M494.5,440.8h7.0M498.0,437.3v7.0 M497.0,441.0h7.0M500.5,437.5v7.0 M500.1,442.2h7.0M503.6,438.7v7.0 M502.4,445.0h7.0M505.9,441.5v7.0 M504.0,465.1h7.0M507.5,461.6v7.0 M505.7,483.6h7.0M509.2,480.1v7.0 M508.2,490.3h7.0M511.7,486.8v7.0 M512.4,502.8h7.0M515.9,499.3v7.0 M514.9,481.9h7.0M518.4,478.4v7.0 M517.4,484.4h7.0M520.9,480.9v7.0 M521.6,472.7h7.0M525.1,469.2v7.0 M525.0,492.0h7.0M528.5,488.5v7.0 M527.5,476.9h7.0M531.0,473.4v7.0 M530.0,488.6h7.0M533.5,485.1v7.0 M533.4,503.7h7.0M536.9,500.2v7.0 M535.0,517.1h7.0M538.5,513.6v7.0 M537.6,532.2h7.0M541.1,528.7v7.0 M540.9,520.4h7.0M544.4,516.9v7.0 M544.3,540.6h7.0M547.8,537.1v7.0 M547.6,508.7h7.0M551.1,505.2v7.0 M551.0,523.8h7.0M554.5,520.3v7.0 M553.0,500.0h7.0M556.5,496.5v7.0 M555.5,503.0h7.0M559.0,499.5v7.0 M558.4,506.1h7.0M561.9,502.6v7.0 M562.2,550.6h7.0M565.7,547.1v7.0 M565.3,553.7h7.0M568.8,550.2v7.0 M569.1,549.8h7.0M572.6,546.3v7.0 M573.0,545.2h7.0M576.5,541.7v7.0 M576.1,539.1h7.0M579.6,535.6v7.0 M579.1,527.6h7.0M582.6,524.1v7.0 M582.2,530.7h7.0M585.7,527.2v7.0 M584.5,536.0h7.0M588.0,532.5v7.0 M587.6,543.7h7.0M591.1,540.2v7.0 M590.6,556.0h7.0M594.1,552.5v7.0 M592.6,582.1h7.0M596.1,578.6v7.0 M596.0,571.3h7.0M599.5,567.8v7.0 M597.5,575.9h7.0M601.0,572.4v7.0 M600.6,552.9h7.0M604.1,549.4v7.0 M604.1,547.8h7.0M607.6,544.3v7.0 M606.9,557.6h7.0M610.4,554.1v7.0 M609.0,552.0h7.0M612.5,548.5v7.0 M612.2,546.8h7.0M615.7,543.3v7.0 M616.8,559.1h7.0M620.3,555.6v7.0 M618.4,576.0h7.0M621.9,572.5v7.0 M621.4,591.3h7.0M624.9,587.8v7.0 M624.5,577.5h7.0M628.0,574.0v7.0 M627.6,566.8h7.0M631.1,563.3v7.0 M631.4,571.4h7.0M634.9,567.9v7.0 M634.5,585.2h7.0M638.0,581.7v7.0 M638.3,562.9h7.0M641.8,559.4v7.0 M641.4,571.4h7.0M644.9,567.9v7.0 M642.9,594.4h7.0M646.4,590.9v7.0 M645.4,615.2h7.0M648.9,611.7v7.0 M649.3,618.2h7.0M652.8,614.7v7.0 M653.2,615.2h7.0M656.7,611.7v7.0 M655.6,633.8h7.0M659.1,630.3v7.0 M660.5,600.6h7.0M664.0,597.1v7.0 M663.0,641.6h7.0M666.5,638.1v7.0 M667.3,602.5h7.0M670.8,599.0v7.0 M671.8,628.9h7.0M675.3,625.4v7.0 M674.7,657.3h7.0M678.2,653.8v7.0" fill="none" stroke="#0000ff" stroke-width="1.0"/>
<path d="M455.5,406.0 L458.0,408.5 L460.4,414.6 L463.9,419.5 L467.3,410.4 L469.4,402.0 L472.7,396.5 L475.0,404.8 L477.1,399.9 L479.0,411.5 L481.3,420.2 L484.1,429.9 L486.5,442.5 L489.0,455.1 L491.8,438.3 L495.3,446.7 L498.0,438.3 L500.5,438.6 L503.6,440.1 L505.9,443.1 L507.5,463.4 L509.2,482.0 L511.7,489.0 L515.9,501.9 L518.4,481.2 L520.9,484.0 L525.1,472.7 L528.5,492.0 L531.0,476.9 L533.5,488.6 L536.9,503.7 L538.5,517.1 L541.1,532.2 L544.4,520.4 L547.8,540.6 L551.1,508.7 L554.5,523.8 L556.5,500.0 L559.0,503.0 L561.9,506.1 L565.7,550.6 L568.8,553.7 L572.6,549.8 L576.5,545.2 L579.6,539.1 L582.6,527.6 L585.7,530.7 L588.0,536.0 L591.1,543.7 L594.1,556.0 L596.1,582.1 L599.5,571.3 L601.0,576.0 L604.1,553.2 L607.6,548.3 L610.4,558.2 L612.5,552.8 L615.7,547.8 L620.3,560.4 L621.9,577.4 L624.9,592.9 L628.0,579.2 L631.1,568.7 L634.9,573.6 L638.0,587.6 L641.8,565.5 L644.9,574.2 L646.4,597.2 L648.9,618.2 L652.8,621.4 L656.7,618.6 L659.1,637.3 L664.0,604.4 L666.5,645.5 L670.8,606.6 L675.3,633.3 L678.2,661.8" fill="none" stroke="#ff0000" stroke-width="1.25" stroke-linejoin="round"/>
<path d="M452.0,406.0h7.0M455.5,402.5v7.0 M454.5,408.5h7.0M458.0,405.0v7.0 M456.9,414.6h7.0M460.4,411.1v7.0 M460.4,419.5h7.0M463.9,416.0v7.0 M463.8,410.4h7.0M467.3,406.9v7.0 M465.9,402.0h7.0M469.4,398.5v7.0 M469.2,396.5h7.0M472.7,393.0v7.0 M471.5,404.8h7.0M475.0,401.3v7.0 M473.6,399.9h7.0M477.1,396.4v7.0 M475.5,411.5h7.0M479.0,408.0v7.0 M477.8,420.2h7.0M481.3,416.7v7.0 M480.6,429.9h7.0M484.1,426.4v7.0 M483.0,442.5h7.0M486.5,439.0v7.0 M485.5,455.1h7.0M489.0,451.6v7.0 M488.3,438.3h7.0M491.8,434.8v7.0 M491.8,446.7h7.0M495.3,443.2v7.0 M494.5,438.3h7.0M498.0,434.8v7.0 M497.0,438.6h7.0M500.5,435.1v7.0 M500.1,440.1h7.0M503.6,436.6v7.0 M502.4,443.1h7.0M505.9,439.6v7.0 M504.0,463.4h7.0M507.5,459.9v7.0 M505.7,482.0h7.0M509.2,478.5v7.0 M508.2,489.0h7.0M511.7,485.5v7.0 M512.4,501.9h7.0M515.9,498.4v7.0 M514.9,481.2h7.0M518.4,477.7v7.0 M517.4,484.0h7.0M520.9,480.5v7.0 M521.6,472.7h7.0M525.1,469.2v7.0 M525.0,492.0h7.0M528.5,488.5v7.0 M527.5,476.9h7.0M531.0,473.4v7.0 M530.0,488.6h7.0M533.5,485.1v7.0 M533.4,503.7h7.0M536.9,500.2v7.0 M535.0,517.1h7.0M538.5,513.6v7.0 M537.6,532.2h7.0M541.1,528.7v7.0 M540.9,520.4h7.0M544.4,516.9v7.0 M544.3,540.6h7.0M547.8,537.1v7.0 M547.6,508.7h7.0M551.1,505.2v7.0 M551.0,523.8h7.0M554.5,520.3v7.0 M553.0,500.0h7.0M556.5,496.5v7.0 M555.5,503.0h7.0M559.0,499.5v7.0 M558.4,506.1h7.0M561.9,502.6v7.0 M562.2,550.6h7.0M565.7,547.1v7.0 M565.3,553.7h7.0M568.8,550.2v7.0 M569.1,549.8h7.0M572.6,546.3v7.0 M573.0,545.2h7.0M576.5,541.7v7.0 M576.1,539.1h7.0M579.6,535.6v7.0 M579.1,527.6h7.0M582.6,524.1v7.0 M582.2,530.7h7.0M585.7,527.2v7.0 M584.5,536.0h7.0M588.0,532.5v7.0 M587.6,543.7h7.0M591.1,540.2v7.0 M590.6,556.0h7.0M594.1,552.5v7.0 M592.6,582.1h7.0M596.1,578.6v7.0 M596.0,571.3h7.0M599.5,567.8v7.0 M597.5,576.0h7.0M601.0,572.5v7.0 M600.6,553.2h7.0M604.1,549.7v7.0 M604.1,548.3h7.0M607.6,544.8v7.0 M606.9,558.2h7.0M610.4,554.8v7.0 M609.0,552.8h7.0M612.5,549.3v7.0 M612.2,547.8h7.0M615.7,544.3v7.0 M616.8,560.4h7.0M620.3,556.9v7.0 M618.4,577.4h7.0M621.9,573.9v7.0 M621.4,592.9h7.0M624.9,589.4v7.0 M624.5,579.2h7.0M628.0,575.8v7.0 M627.6,568.7h7.0M631.1,565.2v7.0 M631.4,573.6h7.0M634.9,570.1v7.0 M634.5,587.6h7.0M638.0,584.1v7.0 M638.3,565.5h7.0M641.8,562.0v7.0 M641.4,574.2h7.0M644.9,570.7v7.0 M642.9,597.2h7.0M646.4,593.7v7.0 M645.4,618.2h7.0M648.9,614.7v7.0 M649.3,621.4h7.0M652.8,617.9v7.0 M653.2,618.6h7.0M656.7,615.1v7.0 M655.6,637.3h7.0M659.1,633.8v7.0 M660.5,604.4h7.0M664.0,600.9v7.0 M663.0,645.5h7.0M666.5,642.0v7.0 M667.3,606.6h7.0M670.8,603.1v7.0 M671.8,633.3h7.0M675.3,629.8v7.0 M674.7,661.8h7.0M678.2,658.3v7.0" fill="none" stroke="#ff0000" stroke-width="1.0"/>
<path d="M455.5,411.0 L458.0,413.5 L460.4,419.6 L463.9,424.5 L467.3,415.4 L469.4,407.0 L472.7,401.5 L475.0,409.8 L477.1,404.9 L479.0,416.5 L481.3,425.2 L484.1,434.9 L486.5,447.5 L489.0,460.1 L491.8,443.3 L495.3,451.7 L498.0,443.3 L500.5,443.4 L503.6,444.3 L505.9,446.9 L507.5,466.9 L509.2,485.2 L511.7,491.6 L515.9,503.7 L518.4,482.6 L520.9,484.8 L525.1,472.7 L528.5,492.0 L531.0,476.9 L533.5,488.6 L536.9,503.7 L538.5,517.1 L541.1,532.2 L544.4,520.4 L547.8,540.6 L551.1,508.7 L554.5,523.8 L556.5,500.0 L559.0,503.0 L561.9,506.1 L565.7,550.6 L568.8,553.7 L572.6,549.8 L576.5,545.2 L579.6,539.1 L582.6,527.6 L585.7,530.7 L588.0,536.0 L591.1,543.7 L594.1,556.0 L596.1,582.1 L599.5,571.3 L601.0,575.9 L604.1,552.7 L607.6,547.4 L610.4,557.1 L612.5,551.4 L615.7,546.0 L620.3,558.1 L621.9,574.9 L624.9,590.1 L628.0,576.1 L631.1,565.2 L634.9,569.7 L638.0,583.3 L641.8,560.8 L644.9,569.1 L646.4,592.1 L648.9,612.7 L652.8,615.5 L656.7,612.3 L659.1,630.8 L664.0,597.3 L666.5,638.2 L670.8,598.9 L675.3,625.0 L678.2,653.3" fill="none" stroke="#00ff00" stroke-width="1.25" stroke-linejoin="round"/>
<path d="M452.0,411.0h7.0M455.5,407.5v7.0 M454.5,413.5h7.0M458.0,410.0v7.0 M456.9,419.6h7.0M460.4,416.1v7.0 M460.4,424.5h7.0M463.9,421.0v7.0 M463.8,415.4h7.0M467.3,411.9v7.0 M465.9,407.0h7.0M469.4,403.5v7.0 M469.2,401.5h7.0M472.7,398.0v7.0 M471.5,409.8h7.0M475.0,406.3v7.0 M473.6,404.9h7.0M477.1,401.4v7.0 M475.5,416.5h7.0M479.0,413.0v7.0 M477.8,425.2h7.0M481.3,421.7v7.0 M480.6,434.9h7.0M484.1,431.4v7.0 M483.0,447.5h7.0M486.5,444.0v7.0 M485.5,460.1h7.0M489.0,456.6v7.0 M488.3,443.3h7.0M491.8,439.8v7.0 M491.8,451.7h7.0M495.3,448.2v7.0 M494.5,443.3h7.0M498.0,439.8v7.0 M497.0,443.4h7.0M500.5,439.9v7.0 M500.1,444.3h7.0M503.6,440.8v7.0 M502.4,446.9h7.0M505.9,443.4v7.0 M504.0,466.9h7.0M507.5,463.4v7.0 M505.7,485.2h7.0M509.2,481.7v7.0 M508.2,491.6h7.0M511.7,488.1v7.0 M512.4,503.7h7.0M515.9,500.2v7.0 M514.9,482.6h7.0M518.4,479.1v7.0 M517.4,484.8h7.0M520.9,481.3v7.0 M521.6,472.7h7.0M525.1,469.2v7.0 M525.0,492.0h7.0M528.5,488.5v7.0 M527.5,476.9h7.0M531.0,473.4v7.0 M530.0,488.6h7.0M533.5,485.1v7.0 M533.4,503.7h7.0M536.9,500.2v7.0 M535.0,517.1h7.0M538.5,513.6v7.0 M537.6,532.2h7.0M541.1,528.7v7.0 M540.9,520.4h7.0M544.4,516.9v7.0 M544.3,540.6h7.0M547.8,537.1v7.0 M547.6,508.7h7.0M551.1,505.2v7.0 M551.0,523.8h7.0M554.5,520.3v7.0 M553.0,500.0h7.0M556.5,496.5v7.0 M555.5,503.0h7.0M559.0,499.5v7.0 M558.4,506.1h7.0M561.9,502.6v7.0 M562.2,550.6h7.0M565.7,547.1v7.0 M565.3,553.7h7.0M568.8,550.2v7.0 M569.1,549.8h7.0M572.6,546.3v7.0 M573.0,545.2h7.0M576.5,541.7v7.0 M576.1,539.1h7.0M579.6,535.6v7.0 M579.1,527.6h7.0M582.6,524.1v7.0 M582.2,530.7h7.0M585.7,527.2v7.0 M584.5,536.0h7.0M588.0,532.5v7.0 M587.6,543.7h7.0M591.1,540.2v7.0 M590.6,556.0h7.0M594.1,552.5v7.0 M592.6,582.1h7.0M596.1,578.6v7.0 M596.0,571.3h7.0M599.5,567.8v7.0 M597.5,575.9h7.0M601.0,572.4v7.0 M600.6,552.7h7.0M604.1,549.2v7.0 M604.1,547.4h7.0M607.6,543.9v7.0 M606.9,557.1h7.0M610.4,553.6v7.0 M609.0,551.4h7.0M612.5,547.9v7.0 M612.2,546.0h7.0M615.7,542.5v7.0 M616.8,558.1h7.0M620.3,554.6v7.0 M618.4,574.9h7.0M621.9,571.4v7.0 M621.4,590.1h7.0M624.9,586.6v7.0 M624.5,576.1h7.0M628.0,572.6v7.0 M627.6,565.2h7.0M631.1,561.7v7.0 M631.4,569.7h7.0M634.9,566.2v7.0 M634.5,583.3h7.0M638.0,579.8v7.0 M638.3,560.8h7.0M641.8,557.3v7.0 M641.4,569.1h7.0M644.9,565.6v7.0 M642.9,592.1h7.0M646.4,588.6v7.0 M645.4,612.7h7.0M648.9,609.2v7.0 M649.3,615.5h7.0M652.8,612.0v7.0 M653.2,612.3h7.0M656.7,608.8v7.0 M655.6,630.8h7.0M659.1,627.3v7.0 M660.5,597.3h7.0M664.0,593.8v7.0 M663.0,638.2h7.0M666.5,634.7v7.0 M667.3,598.9h7.0M670.8,595.4v7.0 M671.8,625.0h7.0M675.3,621.5v7.0 M674.7,653.3h7.0M678.2,649.8v7.0" fill="none" stroke="#00ff00" stroke-width="1.0"/>
<path d="M456.2,481.3 L460.4,479.2 L464.6,477.8 L468.0,475.7 L470.8,471.5 L474.3,468.0 L477.8,472.9 L480.6,478.5 L484.1,482.7 L488.9,487.0 L495.4,486.0 L500.0,483.6 L504.2,486.9 L507.5,495.3 L511.7,503.7 L515.9,507.0 L520.1,502.0 L525.1,497.8 L529.3,500.3 L533.5,503.7 L536.0,510.4 L539.4,520.4 L542.7,524.6 L546.1,523.8 L550.3,522.1 L555.3,520.4 L558.0,518.6 L561.1,520.7 L564.2,530.7 L568.0,542.2 L571.9,539.1 L575.7,534.5 L579.6,529.9 L583.4,528.4 L587.2,530.7 L591.1,537.6 L594.9,549.8 L598.7,546.8 L602.6,540.6 L607.2,536.0 L611.1,533.0 L616.5,530.7 L620.3,540.7 L624.2,546.1 L628.8,543.8 L632.6,536.1 L637.2,531.5 L641.8,533.8 L645.7,540.7 L648.7,550.7 L651.8,563.7 L656.4,563.7 L661.0,562.2 L664.5,560.5 L670.4,554.7 L674.3,564.4 L678.2,572.2" fill="none" stroke="#ffa500" stroke-width="1.25" stroke-linejoin="round"/>
<path d="M452.7,481.3h7.0M456.2,477.8v7.0 M454.8,480.2h7.0M458.3,476.8v7.0 M456.9,479.2h7.0M460.4,475.7v7.0 M459.0,478.5h7.0M462.5,475.0v7.0 M461.1,477.8h7.0M464.6,474.3v7.0 M464.5,475.7h7.0M468.0,472.2v7.0 M467.3,471.5h7.0M470.8,468.0v7.0 M469.1,469.8h7.0M472.6,466.2v7.0 M470.8,468.0h7.0M474.3,464.5v7.0 M472.6,470.4h7.0M476.1,466.9v7.0 M474.3,472.9h7.0M477.8,469.4v7.0 M477.1,478.5h7.0M480.6,475.0v7.0 M478.9,480.6h7.0M482.4,477.1v7.0 M480.6,482.7h7.0M484.1,479.2v7.0 M483.0,484.9h7.0M486.5,481.4v7.0 M485.4,487.0h7.0M488.9,483.5v7.0 M487.6,486.7h7.0M491.1,483.2v7.0 M489.7,486.3h7.0M493.2,482.8v7.0 M491.9,486.0h7.0M495.4,482.5v7.0 M494.2,484.8h7.0M497.7,481.3v7.0 M496.5,483.6h7.0M500.0,480.1v7.0 M498.6,485.2h7.0M502.1,481.8v7.0 M500.7,486.9h7.0M504.2,483.4v7.0 M504.0,495.3h7.0M507.5,491.8v7.0 M506.1,499.5h7.0M509.6,496.0v7.0 M508.2,503.7h7.0M511.7,500.2v7.0 M510.3,505.4h7.0M513.8,501.9v7.0 M512.4,507.0h7.0M515.9,503.5v7.0 M514.5,504.5h7.0M518.0,501.0v7.0 M516.6,502.0h7.0M520.1,498.5v7.0 M519.1,499.9h7.0M522.6,496.4v7.0 M521.6,497.8h7.0M525.1,494.3v7.0 M523.7,499.1h7.0M527.2,495.6v7.0 M525.8,500.3h7.0M529.3,496.8v7.0 M527.9,502.0h7.0M531.4,498.5v7.0 M530.0,503.7h7.0M533.5,500.2v7.0 M532.5,510.4h7.0M536.0,506.9v7.0 M535.9,520.4h7.0M539.4,516.9v7.0 M539.2,524.6h7.0M542.7,521.1v7.0 M542.6,523.8h7.0M546.1,520.3v7.0 M544.7,523.0h7.0M548.2,519.5v7.0 M546.8,522.1h7.0M550.3,518.6v7.0 M549.3,521.2h7.0M552.8,517.8v7.0 M551.8,520.4h7.0M555.3,516.9v7.0 M554.5,518.6h7.0M558.0,515.1v7.0 M557.6,520.7h7.0M561.1,517.2v7.0 M560.7,530.7h7.0M564.2,527.2v7.0 M562.6,536.5h7.0M566.1,533.0v7.0 M564.5,542.2h7.0M568.0,538.7v7.0 M566.5,540.7h7.0M570.0,537.2v7.0 M568.4,539.1h7.0M571.9,535.6v7.0 M570.3,536.8h7.0M573.8,533.3v7.0 M572.2,534.5h7.0M575.7,531.0v7.0 M574.2,532.2h7.0M577.7,528.7v7.0 M576.1,529.9h7.0M579.6,526.4v7.0 M578.0,529.1h7.0M581.5,525.6v7.0 M579.9,528.4h7.0M583.4,524.9v7.0 M581.8,529.5h7.0M585.3,526.0v7.0 M583.7,530.7h7.0M587.2,527.2v7.0 M585.7,534.2h7.0M589.2,530.7v7.0 M587.6,537.6h7.0M591.1,534.1v7.0 M589.5,543.7h7.0M593.0,540.2v7.0 M591.4,549.8h7.0M594.9,546.3v7.0 M593.3,548.3h7.0M596.8,544.8v7.0 M595.2,546.8h7.0M598.7,543.3v7.0 M597.2,543.7h7.0M600.7,540.2v7.0 M599.1,540.6h7.0M602.6,537.1v7.0 M601.4,538.3h7.0M604.9,534.8v7.0 M603.7,536.0h7.0M607.2,532.5v7.0 M605.7,534.5h7.0M609.2,531.0v7.0 M607.6,533.0h7.0M611.1,529.5v7.0 M610.3,531.9h7.0M613.8,528.4v7.0 M613.0,530.7h7.0M616.5,527.2v7.0 M614.9,535.7h7.0M618.4,532.2v7.0 M616.8,540.7h7.0M620.3,537.2v7.0 M618.8,543.4h7.0M622.2,539.9v7.0 M620.7,546.1h7.0M624.2,542.6v7.0 M623.0,545.0h7.0M626.5,541.5v7.0 M625.3,543.8h7.0M628.8,540.3v7.0 M627.2,540.0h7.0M630.7,536.5v7.0 M629.1,536.1h7.0M632.6,532.6v7.0 M631.4,533.8h7.0M634.9,530.3v7.0 M633.7,531.5h7.0M637.2,528.0v7.0 M636.0,532.6h7.0M639.5,529.1v7.0 M638.3,533.8h7.0M641.8,530.3v7.0 M640.2,537.2h7.0M643.8,533.8v7.0 M642.2,540.7h7.0M645.7,537.2v7.0 M645.2,550.7h7.0M648.7,547.2v7.0 M648.3,563.7h7.0M651.8,560.2v7.0 M650.6,563.7h7.0M654.1,560.2v7.0 M652.9,563.7h7.0M656.4,560.2v7.0 M655.2,563.0h7.0M658.7,559.5v7.0 M657.5,562.2h7.0M661.0,558.7v7.0 M659.2,561.4h7.0M662.8,557.9v7.0 M661.0,560.5h7.0M664.5,557.0v7.0 M663.0,558.6h7.0M666.5,555.1v7.0 M664.9,556.6h7.0M668.4,553.1v7.0 M666.9,554.7h7.0M670.4,551.2v7.0 M668.8,559.5h7.0M672.3,556.0v7.0 M670.8,564.4h7.0M674.3,560.9v7.0 M672.8,568.3h7.0M676.2,564.8v7.0 M674.7,572.2h7.0M678.2,568.7v7.0" fill="none" stroke="#ffa500" stroke-width="1.0"/>
</svg>
<rect x="408.5" y="363.5" width="308.0" height="315.0" fill="none" stroke="#000" stroke-width="1.1"/>
<text x="409.60" y="692.15" font-size="12.84" text-anchor="middle" textLength="31.61" lengthAdjust="spacingAndGlyphs">2002</text>
<text x="465.60" y="692.15" font-size="12.84" text-anchor="middle" textLength="31.61" lengthAdjust="spacingAndGlyphs">2004</text>
<text x="521.60" y="692.15" font-size="12.84" text-anchor="middle" textLength="31.61" lengthAdjust="spacingAndGlyphs">2006</text>
<text x="577.60" y="692.15" font-size="12.84" text-anchor="middle" textLength="31.61" lengthAdjust="spacingAndGlyphs">2008</text>
<text x="633.60" y="692.15" font-size="12.84" text-anchor="middle" textLength="31.61" lengthAdjust="spacingAndGlyphs">2010</text>
<text x="689.60" y="692.15" font-size="12.84" text-anchor="middle" textLength="31.61" lengthAdjust="spacingAndGlyphs">2012</text>
<text x="405.90" y="682.00" font-size="12.84" text-anchor="end" textLength="33.62" lengthAdjust="spacingAndGlyphs">−600</text>
<text x="405.90" y="630.00" font-size="12.84" text-anchor="end" textLength="33.62" lengthAdjust="spacingAndGlyphs">−400</text>
<text x="405.90" y="577.00" font-size="12.84" text-anchor="end" textLength="33.62" lengthAdjust="spacingAndGlyphs">−200</text>
<text x="405.90" y="525.00" font-size="12.84" text-anchor="end" textLength="7.79" lengthAdjust="spacingAndGlyphs">0</text>
<text x="405.90" y="472.00" font-size="12.84" text-anchor="end" textLength="23.36" lengthAdjust="spacingAndGlyphs">200</text>
<text x="405.90" y="420.00" font-size="12.84" text-anchor="end" textLength="23.36" lengthAdjust="spacingAndGlyphs">400</text>
<text x="405.90" y="367.00" font-size="12.84" text-anchor="end" textLength="23.36" lengthAdjust="spacingAndGlyphs">600</text>
<path d="M408.90,678.5v-4M408.90,363.5v4 M464.90,678.5v-4M464.90,363.5v4 M520.90,678.5v-4M520.90,363.5v4 M576.90,678.5v-4M576.90,363.5v4 M632.90,678.5v-4M632.90,363.5v4 M688.90,678.5v-4M688.90,363.5v4 M408.5,678.50h4M716.5,678.50h-4 M408.5,626.50h4M716.5,626.50h-4 M408.5,573.50h4M716.5,573.50h-4 M408.5,521.50h4M716.5,521.50h-4 M408.5,468.50h4M716.5,468.50h-4 M408.5,416.50h4M716.5,416.50h-4 M408.5,363.50h4M716.5,363.50h-4" stroke="#000" stroke-width="1.0" fill="none"/>
<g transform="translate(563.10,358.20) scale(1,1.0)">
<text x="0.00" y="0.00" font-size="15.84" text-anchor="middle" textLength="111.00" lengthAdjust="spacingAndGlyphs">Southeast (SE)</text>
</g>
<text x="423.70" y="390.90" font-size="17.6">d</text>
<g transform="translate(435.67,390.90) scale(0.8,0.9)"><text x="0" y="0" font-size="17.6">)</text></g>
<text x="563.50" y="714.20" font-size="12.84" text-anchor="middle" textLength="57.00" lengthAdjust="spacingAndGlyphs">Time [Yr]</text>
<rect x="62.5" y="579.5" width="97" height="91.7" fill="#fff" stroke="#000" stroke-width="1.0"/>
<rect x="68.5" y="586.00" width="30" height="10.5" fill="#0000ff" stroke="#000" stroke-width="1.0"/>
<rect x="68.5" y="607.80" width="30" height="10.5" fill="#ff0000" stroke="#000" stroke-width="1.0"/>
<rect x="68.5" y="629.60" width="30" height="10.5" fill="#00ff00" stroke="#000" stroke-width="1.0"/>
<rect x="68.5" y="651.40" width="30" height="10.5" fill="#ffa500" stroke="#000" stroke-width="1.0"/>
<text x="111.00" y="596.90" font-size="15.84" text-anchor="start" textLength="43.29" lengthAdjust="spacingAndGlyphs">AW13</text>
<text x="111.00" y="618.70" font-size="15.84" text-anchor="start" textLength="41.48" lengthAdjust="spacingAndGlyphs">SM09</text>
<text x="111.00" y="640.50" font-size="15.84" text-anchor="start" textLength="42.82" lengthAdjust="spacingAndGlyphs">Wu10</text>
<text x="111.00" y="662.30" font-size="15.84" text-anchor="start" textLength="32.70" lengthAdjust="spacingAndGlyphs">SMB</text>
</svg>
</body></html>
